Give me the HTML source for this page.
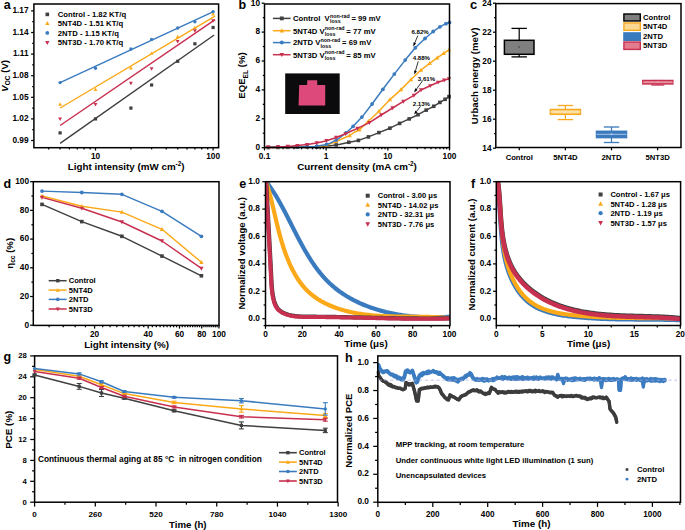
<!DOCTYPE html>
<html><head><meta charset="utf-8"><style>
html,body{margin:0;padding:0;background:#fff;}
svg{display:block;}
text{font-family:'Liberation Sans',sans-serif;font-weight:bold;}
</style></head><body>
<svg width="685" height="530" viewBox="0 0 685 530">
<rect width="685" height="530" fill="#fff"/>
<line x1="31.1" y1="140.5" x2="33.9" y2="140.5" stroke="#000" stroke-width="1.25" />
<line x1="31.1" y1="118.9" x2="33.9" y2="118.9" stroke="#000" stroke-width="1.25" />
<line x1="31.1" y1="97.3" x2="33.9" y2="97.3" stroke="#000" stroke-width="1.25" />
<line x1="31.1" y1="75.7" x2="33.9" y2="75.7" stroke="#000" stroke-width="1.25" />
<line x1="31.1" y1="54.1" x2="33.9" y2="54.1" stroke="#000" stroke-width="1.25" />
<line x1="31.1" y1="32.5" x2="33.9" y2="32.5" stroke="#000" stroke-width="1.25" />
<line x1="31.1" y1="10.9" x2="33.9" y2="10.9" stroke="#000" stroke-width="1.25" />
<line x1="32.2" y1="129.7" x2="33.9" y2="129.7" stroke="#000" stroke-width="1.25" />
<line x1="32.2" y1="108.1" x2="33.9" y2="108.1" stroke="#000" stroke-width="1.25" />
<line x1="32.2" y1="86.5" x2="33.9" y2="86.5" stroke="#000" stroke-width="1.25" />
<line x1="32.2" y1="64.9" x2="33.9" y2="64.9" stroke="#000" stroke-width="1.25" />
<line x1="32.2" y1="43.3" x2="33.9" y2="43.3" stroke="#000" stroke-width="1.25" />
<line x1="32.2" y1="21.7" x2="33.9" y2="21.7" stroke="#000" stroke-width="1.25" />
<text x="28.6" y="142.8" font-size="8.3" text-anchor="end" fill="#000" >0.99</text>
<text x="28.6" y="121.2" font-size="8.3" text-anchor="end" fill="#000" >1.02</text>
<text x="28.6" y="99.6" font-size="8.3" text-anchor="end" fill="#000" >1.05</text>
<text x="28.6" y="78" font-size="8.3" text-anchor="end" fill="#000" >1.08</text>
<text x="28.6" y="56.4" font-size="8.3" text-anchor="end" fill="#000" >1.11</text>
<text x="28.6" y="34.8" font-size="8.3" text-anchor="end" fill="#000" >1.14</text>
<text x="28.6" y="13.2" font-size="8.3" text-anchor="end" fill="#000" >1.17</text>
<line x1="95.5" y1="147.7" x2="95.5" y2="150.5" stroke="#000" stroke-width="1.25" />
<line x1="213.1" y1="147.7" x2="213.1" y2="150.5" stroke="#000" stroke-width="1.25" />
<line x1="48.7" y1="147.7" x2="48.7" y2="149.4" stroke="#000" stroke-width="1.25" />
<line x1="60.1" y1="147.7" x2="60.1" y2="149.4" stroke="#000" stroke-width="1.25" />
<line x1="69.41" y1="147.7" x2="69.41" y2="149.4" stroke="#000" stroke-width="1.25" />
<line x1="77.28" y1="147.7" x2="77.28" y2="149.4" stroke="#000" stroke-width="1.25" />
<line x1="84.1" y1="147.7" x2="84.1" y2="149.4" stroke="#000" stroke-width="1.25" />
<line x1="90.12" y1="147.7" x2="90.12" y2="149.4" stroke="#000" stroke-width="1.25" />
<line x1="130.9" y1="147.7" x2="130.9" y2="149.4" stroke="#000" stroke-width="1.25" />
<line x1="151.61" y1="147.7" x2="151.61" y2="149.4" stroke="#000" stroke-width="1.25" />
<line x1="166.3" y1="147.7" x2="166.3" y2="149.4" stroke="#000" stroke-width="1.25" />
<line x1="177.7" y1="147.7" x2="177.7" y2="149.4" stroke="#000" stroke-width="1.25" />
<line x1="187.01" y1="147.7" x2="187.01" y2="149.4" stroke="#000" stroke-width="1.25" />
<line x1="194.88" y1="147.7" x2="194.88" y2="149.4" stroke="#000" stroke-width="1.25" />
<line x1="201.7" y1="147.7" x2="201.7" y2="149.4" stroke="#000" stroke-width="1.25" />
<line x1="207.72" y1="147.7" x2="207.72" y2="149.4" stroke="#000" stroke-width="1.25" />
<text x="95.5" y="159.2" font-size="8.3" text-anchor="middle" fill="#000" >10</text>
<text x="213.1" y="159.2" font-size="8.3" text-anchor="middle" fill="#000" >100</text>
<text x="126.2" y="170" font-size="9.8" text-anchor="middle" fill="#000" >Light intensity (mW cm<tspan font-size="6.4" dy="-3.6">-2</tspan><tspan dy="3.6">)</tspan></text>
<text transform="translate(7.5,75.8) rotate(-90)" font-size="9.6" text-anchor="middle" fill="#000"><tspan font-style="italic">V</tspan><tspan font-size="6.6" dy="2.2">OC</tspan><tspan dy="-2.2"> (V)</tspan></text>
<line x1="60.1" y1="143.4" x2="214.2" y2="35" stroke="#404040" stroke-width="1.45" />
<line x1="60.1" y1="108" x2="215" y2="16.1" stroke="#fba919" stroke-width="1.45" />
<line x1="60.1" y1="82.7" x2="213.4" y2="11.6" stroke="#3a7bbf" stroke-width="1.45" />
<line x1="60.1" y1="125.5" x2="215.1" y2="19.6" stroke="#c8304f" stroke-width="1.45" />
<rect x="58.5" y="131.3" width="3.2" height="3.2" fill="#404040"/>
<rect x="93.9" y="117.3" width="3.2" height="3.2" fill="#404040"/>
<rect x="129.3" y="106.5" width="3.2" height="3.2" fill="#404040"/>
<rect x="150.01" y="83.4" width="3.2" height="3.2" fill="#404040"/>
<rect x="176.1" y="59.7" width="3.2" height="3.2" fill="#404040"/>
<rect x="193.28" y="42.2" width="3.2" height="3.2" fill="#404040"/>
<rect x="211.5" y="25.9" width="3.2" height="3.2" fill="#404040"/>
<polygon points="60.1,102.18 58.18,105.67 62.02,105.67" fill="#fba919"/>
<polygon points="95.5,87.58 93.58,91.07 97.42,91.07" fill="#fba919"/>
<polygon points="130.9,65.98 128.98,69.47 132.82,69.47" fill="#fba919"/>
<polygon points="151.61,51.38 149.69,54.87 153.53,54.87" fill="#fba919"/>
<polygon points="177.7,34.78 175.78,38.27 179.62,38.27" fill="#fba919"/>
<polygon points="194.88,25.68 192.96,29.17 196.8,29.17" fill="#fba919"/>
<polygon points="213.1,11.98 211.18,15.47 215.02,15.47" fill="#fba919"/>
<circle cx="60.1" cy="82.6" r="1.68" fill="#3a7bbf"/>
<circle cx="95.5" cy="68.2" r="1.68" fill="#3a7bbf"/>
<circle cx="130.9" cy="49.05" r="1.68" fill="#3a7bbf"/>
<circle cx="151.61" cy="39.4" r="1.68" fill="#3a7bbf"/>
<circle cx="177.7" cy="28" r="1.68" fill="#3a7bbf"/>
<circle cx="194.88" cy="21.7" r="1.68" fill="#3a7bbf"/>
<circle cx="213.1" cy="11.6" r="1.68" fill="#3a7bbf"/>
<polygon points="60.1,120.92 58.18,117.43 62.02,117.43" fill="#c8304f"/>
<polygon points="95.5,106.52 93.58,103.03 97.42,103.03" fill="#c8304f"/>
<polygon points="130.9,85.22 128.98,81.73 132.82,81.73" fill="#c8304f"/>
<polygon points="151.61,70.72 149.69,67.23 153.53,67.23" fill="#c8304f"/>
<polygon points="177.7,43.52 175.78,40.03 179.62,40.03" fill="#c8304f"/>
<polygon points="194.88,32.72 192.96,29.23 196.8,29.23" fill="#c8304f"/>
<polygon points="213.1,22.72 211.18,19.23 215.02,19.23" fill="#c8304f"/>
<rect x="45.5" y="12.6" width="3.6" height="3.6" fill="#404040"/>
<text x="57.8" y="17.2" font-size="7.7" text-anchor="start" fill="#000" >Control - 1.82 KT/q</text>
<polygon points="47.3,21.02 45.14,24.96 49.46,24.96" fill="#fba919"/>
<text x="57.8" y="26.1" font-size="7.7" text-anchor="start" fill="#000" >5NT4D - 1.51 KT/q</text>
<circle cx="47.3" cy="32.9" r="1.89" fill="#3a7bbf"/>
<text x="57.8" y="35.7" font-size="7.7" text-anchor="start" fill="#000" >2NTD - 1.15 KT/q</text>
<polygon points="47.3,44.88 45.14,40.94 49.46,40.94" fill="#c8304f"/>
<text x="57.8" y="45.4" font-size="7.7" text-anchor="start" fill="#000" >5NT3D - 1.70 KT/q</text>
<rect x="33.9" y="4" width="184.7" height="143.7" fill="none" stroke="#000" stroke-width="1.5"/>
<text x="3.7" y="9" font-size="12.5" text-anchor="start" fill="#000" >a</text>
<line x1="261.7" y1="147.7" x2="264.5" y2="147.7" stroke="#000" stroke-width="1.25" />
<line x1="261.7" y1="118.8" x2="264.5" y2="118.8" stroke="#000" stroke-width="1.25" />
<line x1="261.7" y1="89.9" x2="264.5" y2="89.9" stroke="#000" stroke-width="1.25" />
<line x1="261.7" y1="61" x2="264.5" y2="61" stroke="#000" stroke-width="1.25" />
<line x1="261.7" y1="32.1" x2="264.5" y2="32.1" stroke="#000" stroke-width="1.25" />
<line x1="261.7" y1="3.2" x2="264.5" y2="3.2" stroke="#000" stroke-width="1.25" />
<line x1="262.8" y1="133.25" x2="264.5" y2="133.25" stroke="#000" stroke-width="1.25" />
<line x1="262.8" y1="104.35" x2="264.5" y2="104.35" stroke="#000" stroke-width="1.25" />
<line x1="262.8" y1="75.45" x2="264.5" y2="75.45" stroke="#000" stroke-width="1.25" />
<line x1="262.8" y1="46.55" x2="264.5" y2="46.55" stroke="#000" stroke-width="1.25" />
<line x1="262.8" y1="17.65" x2="264.5" y2="17.65" stroke="#000" stroke-width="1.25" />
<text x="260" y="150" font-size="8.3" text-anchor="end" fill="#000" >0</text>
<text x="260" y="121.1" font-size="8.3" text-anchor="end" fill="#000" >2</text>
<text x="260" y="92.2" font-size="8.3" text-anchor="end" fill="#000" >4</text>
<text x="260" y="63.3" font-size="8.3" text-anchor="end" fill="#000" >6</text>
<text x="260" y="34.4" font-size="8.3" text-anchor="end" fill="#000" >8</text>
<text x="260" y="5.5" font-size="8.3" text-anchor="end" fill="#000" >10</text>
<line x1="264.5" y1="147.6" x2="264.5" y2="150.4" stroke="#000" stroke-width="1.25" />
<line x1="326.17" y1="147.6" x2="326.17" y2="150.4" stroke="#000" stroke-width="1.25" />
<line x1="387.84" y1="147.6" x2="387.84" y2="150.4" stroke="#000" stroke-width="1.25" />
<line x1="449.51" y1="147.6" x2="449.51" y2="150.4" stroke="#000" stroke-width="1.25" />
<line x1="283.06" y1="147.6" x2="283.06" y2="149.3" stroke="#000" stroke-width="1.25" />
<line x1="293.92" y1="147.6" x2="293.92" y2="149.3" stroke="#000" stroke-width="1.25" />
<line x1="301.63" y1="147.6" x2="301.63" y2="149.3" stroke="#000" stroke-width="1.25" />
<line x1="307.61" y1="147.6" x2="307.61" y2="149.3" stroke="#000" stroke-width="1.25" />
<line x1="312.49" y1="147.6" x2="312.49" y2="149.3" stroke="#000" stroke-width="1.25" />
<line x1="316.62" y1="147.6" x2="316.62" y2="149.3" stroke="#000" stroke-width="1.25" />
<line x1="320.19" y1="147.6" x2="320.19" y2="149.3" stroke="#000" stroke-width="1.25" />
<line x1="323.35" y1="147.6" x2="323.35" y2="149.3" stroke="#000" stroke-width="1.25" />
<line x1="344.73" y1="147.6" x2="344.73" y2="149.3" stroke="#000" stroke-width="1.25" />
<line x1="355.59" y1="147.6" x2="355.59" y2="149.3" stroke="#000" stroke-width="1.25" />
<line x1="363.3" y1="147.6" x2="363.3" y2="149.3" stroke="#000" stroke-width="1.25" />
<line x1="369.28" y1="147.6" x2="369.28" y2="149.3" stroke="#000" stroke-width="1.25" />
<line x1="374.16" y1="147.6" x2="374.16" y2="149.3" stroke="#000" stroke-width="1.25" />
<line x1="378.29" y1="147.6" x2="378.29" y2="149.3" stroke="#000" stroke-width="1.25" />
<line x1="381.86" y1="147.6" x2="381.86" y2="149.3" stroke="#000" stroke-width="1.25" />
<line x1="385.02" y1="147.6" x2="385.02" y2="149.3" stroke="#000" stroke-width="1.25" />
<line x1="406.4" y1="147.6" x2="406.4" y2="149.3" stroke="#000" stroke-width="1.25" />
<line x1="417.26" y1="147.6" x2="417.26" y2="149.3" stroke="#000" stroke-width="1.25" />
<line x1="424.97" y1="147.6" x2="424.97" y2="149.3" stroke="#000" stroke-width="1.25" />
<line x1="430.95" y1="147.6" x2="430.95" y2="149.3" stroke="#000" stroke-width="1.25" />
<line x1="435.83" y1="147.6" x2="435.83" y2="149.3" stroke="#000" stroke-width="1.25" />
<line x1="439.96" y1="147.6" x2="439.96" y2="149.3" stroke="#000" stroke-width="1.25" />
<line x1="443.53" y1="147.6" x2="443.53" y2="149.3" stroke="#000" stroke-width="1.25" />
<line x1="446.69" y1="147.6" x2="446.69" y2="149.3" stroke="#000" stroke-width="1.25" />
<text x="264.5" y="159.2" font-size="8.3" text-anchor="middle" fill="#000" >0.1</text>
<text x="326.17" y="159.2" font-size="8.3" text-anchor="middle" fill="#000" >1</text>
<text x="387.84" y="159.2" font-size="8.3" text-anchor="middle" fill="#000" >10</text>
<text x="449.51" y="159.2" font-size="8.3" text-anchor="middle" fill="#000" >100</text>
<text x="357" y="170" font-size="9.8" text-anchor="middle" fill="#000" >Current density (mA cm<tspan font-size="6.4" dy="-3.6">-2</tspan><tspan dy="3.6">)</tspan></text>
<text transform="translate(245.3,75.5) rotate(-90)" font-size="9.6" text-anchor="middle" fill="#000">EQE<tspan font-size="6.6" dy="2.2">EL</tspan><tspan dy="-2.2"> (%)</tspan></text>
<filter id="bl" x="-0.2" y="-0.2" width="1.4" height="1.4"><feGaussianBlur stdDeviation="0.45"/></filter>
<rect x="285.2" y="73.4" width="54.5" height="40.6" fill="#0b0b0d"/>
<polygon points="299.2,85.0 307.2,85.0 307.2,80.3 317.2,80.3 317.2,85.0 325.2,85.0 325.2,105.6 298.6,105.6" fill="#de4a7b" filter="url(#bl)"/>
<polyline points="266,147.5 320,147 332.3,145.6 340.2,144.3 348.1,142.4 358.4,140.4 368.4,136.9 378.9,132.6 389.9,128.2 399.6,123.4 409.2,118.9 418,114.7 426.2,110.1 433.7,106.3 439.9,102.4 445.1,99.3 449,96.6" fill="none" stroke="#404040" stroke-width="1.5" stroke-linejoin="round" stroke-linecap="round" />
<rect x="266.5" y="145.68" width="3.6" height="3.6" fill="#404040"/>
<rect x="276.2" y="145.59" width="3.6" height="3.6" fill="#404040"/>
<rect x="285.9" y="145.5" width="3.6" height="3.6" fill="#404040"/>
<rect x="295.6" y="145.41" width="3.6" height="3.6" fill="#404040"/>
<rect x="305.3" y="145.32" width="3.6" height="3.6" fill="#404040"/>
<rect x="315" y="145.23" width="3.6" height="3.6" fill="#404040"/>
<rect x="324.7" y="144.46" width="3.6" height="3.6" fill="#404040"/>
<rect x="334.4" y="143.16" width="3.6" height="3.6" fill="#404040"/>
<rect x="347" y="140.46" width="3.6" height="3.6" fill="#404040"/>
<rect x="356.6" y="138.6" width="3.6" height="3.6" fill="#404040"/>
<rect x="366.6" y="135.1" width="3.6" height="3.6" fill="#404040"/>
<rect x="377.1" y="130.8" width="3.6" height="3.6" fill="#404040"/>
<rect x="388.1" y="126.4" width="3.6" height="3.6" fill="#404040"/>
<rect x="397.8" y="121.6" width="3.6" height="3.6" fill="#404040"/>
<rect x="407.4" y="117.1" width="3.6" height="3.6" fill="#404040"/>
<rect x="416.2" y="112.9" width="3.6" height="3.6" fill="#404040"/>
<rect x="424.4" y="108.3" width="3.6" height="3.6" fill="#404040"/>
<rect x="431.9" y="104.5" width="3.6" height="3.6" fill="#404040"/>
<rect x="438.1" y="100.6" width="3.6" height="3.6" fill="#404040"/>
<rect x="443.3" y="97.5" width="3.6" height="3.6" fill="#404040"/>
<rect x="447.2" y="94.8" width="3.6" height="3.6" fill="#404040"/>
<polyline points="266,147.4 310,146.9 320,146.2 327,145 335.6,141.7 345.5,137.3 349.6,135.6 354,132.5 359.3,129.9 368.4,121.2 378.9,111.2 389.9,99.6 401,89.6 411,79.5 421,70 429.7,63.4 437.2,57.8 443.7,53.4 449,49.9" fill="none" stroke="#fba919" stroke-width="1.5" stroke-linejoin="round" stroke-linecap="round" />
<polygon points="268.3,145.1 266.14,149.03 270.46,149.03" fill="#fba919"/>
<polygon points="278,144.99 275.84,148.92 280.16,148.92" fill="#fba919"/>
<polygon points="287.7,144.88 285.54,148.81 289.86,148.81" fill="#fba919"/>
<polygon points="297.4,144.77 295.24,148.7 299.56,148.7" fill="#fba919"/>
<polygon points="307.1,144.66 304.94,148.59 309.26,148.59" fill="#fba919"/>
<polygon points="316.8,144.15 314.64,148.08 318.96,148.08" fill="#fba919"/>
<polygon points="326.5,142.81 324.34,146.74 328.66,146.74" fill="#fba919"/>
<polygon points="336.2,139.16 334.04,143.09 338.36,143.09" fill="#fba919"/>
<polygon points="349.6,133.32 347.44,137.26 351.76,137.26" fill="#fba919"/>
<polygon points="359.3,127.62 357.14,131.56 361.46,131.56" fill="#fba919"/>
<polygon points="368.4,118.92 366.24,122.86 370.56,122.86" fill="#fba919"/>
<polygon points="378.9,108.92 376.74,112.86 381.06,112.86" fill="#fba919"/>
<polygon points="389.9,97.32 387.74,101.26 392.06,101.26" fill="#fba919"/>
<polygon points="401,87.32 398.84,91.26 403.16,91.26" fill="#fba919"/>
<polygon points="411,77.22 408.84,81.16 413.16,81.16" fill="#fba919"/>
<polygon points="421,67.72 418.84,71.66 423.16,71.66" fill="#fba919"/>
<polygon points="429.7,61.12 427.54,65.06 431.86,65.06" fill="#fba919"/>
<polygon points="437.2,55.52 435.04,59.46 439.36,59.46" fill="#fba919"/>
<polygon points="443.7,51.12 441.54,55.06 445.86,55.06" fill="#fba919"/>
<polygon points="449,47.62 446.84,51.56 451.16,51.56" fill="#fba919"/>
<polyline points="266,147.3 300,147 315,146.5 323.8,145 329.7,143.4 336.9,139.7 344.2,134.5 352.5,127 361.9,117.1 372.1,104 382.9,89.3 394.3,74.1 405.2,60.1 415.3,47.8 425,38.5 433.2,31.5 439.9,26.8 446,23.7 449.5,22.4" fill="none" stroke="#3a7bbf" stroke-width="1.5" stroke-linejoin="round" stroke-linecap="round" />
<circle cx="268.3" cy="147.28" r="1.89" fill="#3a7bbf"/>
<circle cx="278" cy="147.19" r="1.89" fill="#3a7bbf"/>
<circle cx="287.7" cy="147.11" r="1.89" fill="#3a7bbf"/>
<circle cx="297.4" cy="147.02" r="1.89" fill="#3a7bbf"/>
<circle cx="307.1" cy="146.76" r="1.89" fill="#3a7bbf"/>
<circle cx="316.8" cy="146.19" r="1.89" fill="#3a7bbf"/>
<circle cx="326.5" cy="144.27" r="1.89" fill="#3a7bbf"/>
<circle cx="336.2" cy="140.06" r="1.89" fill="#3a7bbf"/>
<circle cx="345.9" cy="132.96" r="1.89" fill="#3a7bbf"/>
<circle cx="353.1" cy="126.37" r="1.89" fill="#3a7bbf"/>
<circle cx="361.9" cy="117.1" r="1.89" fill="#3a7bbf"/>
<circle cx="372.1" cy="104" r="1.89" fill="#3a7bbf"/>
<circle cx="382.9" cy="89.3" r="1.89" fill="#3a7bbf"/>
<circle cx="394.3" cy="74.1" r="1.89" fill="#3a7bbf"/>
<circle cx="405.2" cy="60.1" r="1.89" fill="#3a7bbf"/>
<circle cx="415.3" cy="47.8" r="1.89" fill="#3a7bbf"/>
<circle cx="425" cy="38.5" r="1.89" fill="#3a7bbf"/>
<circle cx="433.2" cy="31.5" r="1.89" fill="#3a7bbf"/>
<circle cx="439.9" cy="26.8" r="1.89" fill="#3a7bbf"/>
<circle cx="446" cy="23.7" r="1.89" fill="#3a7bbf"/>
<circle cx="449.5" cy="22.4" r="1.89" fill="#3a7bbf"/>
<polyline points="266,147.2 277.9,147 287.7,146.5 297.5,145.6 307.4,144.5 316.6,143 325.8,141 335.6,137.7 345.5,133.8 351,131.3 357.5,128.4 369.4,122.6 381.2,115 392.6,108 403.4,101.4 413.9,95.4 421,90 430.2,85.8 438.1,82.3 444.2,80.2 449,78.8" fill="none" stroke="#c8304f" stroke-width="1.5" stroke-linejoin="round" stroke-linecap="round" />
<polygon points="268.3,149.44 266.14,145.51 270.46,145.51" fill="#c8304f"/>
<polygon points="278,149.27 275.84,145.34 280.16,145.34" fill="#c8304f"/>
<polygon points="287.7,148.78 285.54,144.84 289.86,144.84" fill="#c8304f"/>
<polygon points="297.4,147.89 295.24,143.95 299.56,143.95" fill="#c8304f"/>
<polygon points="307.1,146.81 304.94,142.88 309.26,142.88" fill="#c8304f"/>
<polygon points="316.8,145.23 314.64,141.3 318.96,141.3" fill="#c8304f"/>
<polygon points="326.5,143.04 324.34,139.11 328.66,139.11" fill="#c8304f"/>
<polygon points="336.2,139.74 334.04,135.81 338.36,135.81" fill="#c8304f"/>
<polygon points="345.5,136.08 343.34,132.14 347.66,132.14" fill="#c8304f"/>
<polygon points="357.5,130.68 355.34,126.74 359.66,126.74" fill="#c8304f"/>
<polygon points="369.4,124.88 367.24,120.94 371.56,120.94" fill="#c8304f"/>
<polygon points="381.2,117.28 379.04,113.34 383.36,113.34" fill="#c8304f"/>
<polygon points="392.6,110.28 390.44,106.34 394.76,106.34" fill="#c8304f"/>
<polygon points="403.4,103.68 401.24,99.74 405.56,99.74" fill="#c8304f"/>
<polygon points="413.9,97.68 411.74,93.74 416.06,93.74" fill="#c8304f"/>
<polygon points="421,92.28 418.84,88.34 423.16,88.34" fill="#c8304f"/>
<polygon points="430.2,88.08 428.04,84.14 432.36,84.14" fill="#c8304f"/>
<polygon points="438.1,84.58 435.94,80.64 440.26,80.64" fill="#c8304f"/>
<polygon points="444.2,82.48 442.04,78.54 446.36,78.54" fill="#c8304f"/>
<polygon points="449,81.08 446.84,77.14 451.16,77.14" fill="#c8304f"/>
<text x="420.1" y="33.9" font-size="6.1" text-anchor="middle" fill="#000" font-weight="normal">6.82%</text>
<line x1="417.8" y1="35.6" x2="414.83" y2="42.8" stroke="#000" stroke-width="0.8" />
<polygon points="413.3,46.5 413.53,42.27 416.12,43.34" fill="#000"/>
<text x="421.4" y="60.1" font-size="6.1" text-anchor="middle" fill="#000" font-weight="normal">4.88%</text>
<line x1="418.2" y1="61.4" x2="415.51" y2="70.76" stroke="#000" stroke-width="0.8" />
<polygon points="414.4,74.6 414.16,70.37 416.85,71.14" fill="#000"/>
<text x="426.5" y="80.7" font-size="6.1" text-anchor="middle" fill="#000" font-weight="normal">3.61%</text>
<line x1="422.4" y1="81" x2="416.45" y2="89.17" stroke="#000" stroke-width="0.8" />
<polygon points="414.1,92.4 415.32,88.34 417.59,89.99" fill="#000"/>
<text x="421.4" y="106" font-size="6.1" text-anchor="middle" fill="#000" font-weight="normal">2.13%</text>
<line x1="420.5" y1="106.3" x2="416.54" y2="111.43" stroke="#000" stroke-width="0.8" />
<polygon points="414.1,114.6 415.43,110.58 417.65,112.29" fill="#000"/>
<line x1="272.9" y1="18.4" x2="290.6" y2="18.4" stroke="#404040" stroke-width="1.5" />
<rect x="279.9" y="16.5" width="3.8" height="3.8" fill="#404040"/>
<text x="293" y="21.2" font-size="7.7" text-anchor="start" fill="#000" >Control&#160; V</text>
<text x="329.99" y="18.1" font-size="5.3" text-anchor="start" fill="#000" font-weight="normal">non-rad</text>
<text x="329.99" y="23.3" font-size="5.3" text-anchor="start" fill="#000" font-weight="normal">loss</text>
<text x="351.45" y="21.2" font-size="7.7" text-anchor="start" fill="#000" >= 99 mV</text>
<line x1="272.9" y1="30.7" x2="290.6" y2="30.7" stroke="#fba919" stroke-width="1.5" />
<polygon points="281.8,28.3 279.52,32.45 284.08,32.45" fill="#fba919"/>
<text x="293" y="33.5" font-size="7.7" text-anchor="start" fill="#000" >5NT4D V</text>
<text x="324.87" y="30.4" font-size="5.3" text-anchor="start" fill="#000" font-weight="normal">non-rad</text>
<text x="324.87" y="35.6" font-size="5.3" text-anchor="start" fill="#000" font-weight="normal">loss</text>
<text x="346.33" y="33.5" font-size="7.7" text-anchor="start" fill="#000" >= 77 mV</text>
<line x1="272.9" y1="42.6" x2="290.6" y2="42.6" stroke="#3a7bbf" stroke-width="1.5" />
<circle cx="281.8" cy="42.6" r="1.99" fill="#3a7bbf"/>
<text x="293" y="45.4" font-size="7.7" text-anchor="start" fill="#000" >2NTD V</text>
<text x="320.58" y="42.3" font-size="5.3" text-anchor="start" fill="#000" font-weight="normal">non-rad</text>
<text x="320.58" y="47.5" font-size="5.3" text-anchor="start" fill="#000" font-weight="normal">loss</text>
<text x="342.05" y="45.4" font-size="7.7" text-anchor="start" fill="#000" >= 69 mV</text>
<line x1="272.9" y1="54.7" x2="290.6" y2="54.7" stroke="#c8304f" stroke-width="1.5" />
<polygon points="281.8,57.1 279.52,52.95 284.08,52.95" fill="#c8304f"/>
<text x="293" y="57.5" font-size="7.7" text-anchor="start" fill="#000" >5NT3D V</text>
<text x="324.87" y="54.4" font-size="5.3" text-anchor="start" fill="#000" font-weight="normal">non-rad</text>
<text x="324.87" y="59.6" font-size="5.3" text-anchor="start" fill="#000" font-weight="normal">loss</text>
<text x="346.33" y="57.5" font-size="7.7" text-anchor="start" fill="#000" >= 85 mV</text>
<rect x="264.5" y="4" width="185" height="143.6" fill="none" stroke="#000" stroke-width="1.5"/>
<text x="238.6" y="8.9" font-size="12.5" text-anchor="start" fill="#000" >b</text>
<line x1="493" y1="148.2" x2="495.8" y2="148.2" stroke="#000" stroke-width="1.25" />
<line x1="493" y1="119.2" x2="495.8" y2="119.2" stroke="#000" stroke-width="1.25" />
<line x1="493" y1="90.2" x2="495.8" y2="90.2" stroke="#000" stroke-width="1.25" />
<line x1="493" y1="61.2" x2="495.8" y2="61.2" stroke="#000" stroke-width="1.25" />
<line x1="493" y1="32.2" x2="495.8" y2="32.2" stroke="#000" stroke-width="1.25" />
<line x1="493" y1="3.2" x2="495.8" y2="3.2" stroke="#000" stroke-width="1.25" />
<line x1="494.1" y1="133.7" x2="495.8" y2="133.7" stroke="#000" stroke-width="1.25" />
<line x1="494.1" y1="104.7" x2="495.8" y2="104.7" stroke="#000" stroke-width="1.25" />
<line x1="494.1" y1="75.7" x2="495.8" y2="75.7" stroke="#000" stroke-width="1.25" />
<line x1="494.1" y1="46.7" x2="495.8" y2="46.7" stroke="#000" stroke-width="1.25" />
<line x1="494.1" y1="17.7" x2="495.8" y2="17.7" stroke="#000" stroke-width="1.25" />
<text x="491.5" y="150.5" font-size="8.3" text-anchor="end" fill="#000" >14</text>
<text x="491.5" y="121.5" font-size="8.3" text-anchor="end" fill="#000" >16</text>
<text x="491.5" y="92.5" font-size="8.3" text-anchor="end" fill="#000" >18</text>
<text x="491.5" y="63.5" font-size="8.3" text-anchor="end" fill="#000" >20</text>
<text x="491.5" y="34.5" font-size="8.3" text-anchor="end" fill="#000" >22</text>
<text x="491.5" y="5.5" font-size="8.3" text-anchor="end" fill="#000" >24</text>
<line x1="519.3" y1="147.5" x2="519.3" y2="150.3" stroke="#000" stroke-width="1.25" />
<line x1="565.4" y1="147.5" x2="565.4" y2="150.3" stroke="#000" stroke-width="1.25" />
<line x1="611.5" y1="147.5" x2="611.5" y2="150.3" stroke="#000" stroke-width="1.25" />
<line x1="657.6" y1="147.5" x2="657.6" y2="150.3" stroke="#000" stroke-width="1.25" />
<text x="519.3" y="160.3" font-size="7.7" text-anchor="middle" fill="#000" >Control</text>
<text x="565.4" y="160.3" font-size="7.7" text-anchor="middle" fill="#000" >5NT4D</text>
<text x="611.5" y="160.3" font-size="7.7" text-anchor="middle" fill="#000" >2NTD</text>
<text x="657.6" y="160.3" font-size="7.7" text-anchor="middle" fill="#000" >5NT3D</text>
<text transform="translate(478.2,75.9) rotate(-90)" font-size="9.6" text-anchor="middle" fill="#000">Urbach energy (meV)</text>
<line x1="519.2" y1="28.4" x2="519.2" y2="40.3" stroke="#000" stroke-width="1.2" />
<line x1="519.2" y1="54.3" x2="519.2" y2="56.9" stroke="#000" stroke-width="1.2" />
<line x1="511.5" y1="28.4" x2="526.9" y2="28.4" stroke="#000" stroke-width="1.3" />
<line x1="511.5" y1="56.9" x2="526.9" y2="56.9" stroke="#000" stroke-width="1.3" />
<rect x="504.4" y="40.3" width="29.6" height="14" fill="#7f7f7f" stroke="#000" stroke-width="1.5"/>
<rect x="518.3" y="46.1" width="1.8" height="1.8" fill="#5a5a5a"/>
<line x1="565.4" y1="105.5" x2="565.4" y2="109.5" stroke="#f8a81c" stroke-width="1.2" />
<line x1="565.4" y1="114.3" x2="565.4" y2="119.6" stroke="#f8a81c" stroke-width="1.2" />
<line x1="557.7" y1="105.5" x2="573.1" y2="105.5" stroke="#f8a81c" stroke-width="1.3" />
<line x1="557.7" y1="119.6" x2="573.1" y2="119.6" stroke="#f8a81c" stroke-width="1.3" />
<rect x="550.4" y="109.5" width="30" height="4.8" fill="#fdd993" stroke="#f8a81c" stroke-width="1.5"/>
<line x1="550.4" y1="111.9" x2="580.4" y2="111.9" stroke="#fbe7bd" stroke-width="1.0" />
<rect x="564.5" y="111.1" width="1.8" height="1.8" fill="#fbe7bd"/>
<line x1="611.5" y1="127" x2="611.5" y2="131.3" stroke="#3a7abd" stroke-width="1.2" />
<line x1="611.5" y1="137.6" x2="611.5" y2="142.5" stroke="#3a7abd" stroke-width="1.2" />
<line x1="603.8" y1="127" x2="619.2" y2="127" stroke="#3a7abd" stroke-width="1.3" />
<line x1="603.8" y1="142.5" x2="619.2" y2="142.5" stroke="#3a7abd" stroke-width="1.3" />
<rect x="596.5" y="131.3" width="30" height="6.3" fill="#3a7abd" stroke="#3a7abd" stroke-width="1.5"/>
<line x1="596.5" y1="134.3" x2="626.5" y2="134.3" stroke="#a9c8ea" stroke-width="1.0" />
<rect x="610.6" y="133.3" width="1.8" height="1.8" fill="#a9c8ea"/>
<line x1="657.8" y1="80.6" x2="657.8" y2="80.5" stroke="#c8304f" stroke-width="1.2" />
<line x1="657.8" y1="83.9" x2="657.8" y2="85" stroke="#c8304f" stroke-width="1.2" />
<line x1="651.3" y1="80.6" x2="664.3" y2="80.6" stroke="#c8304f" stroke-width="1.3" />
<line x1="651.3" y1="85" x2="664.3" y2="85" stroke="#c8304f" stroke-width="1.3" />
<rect x="642.8" y="80.5" width="30" height="3.4" fill="#e47c8f" stroke="#c8304f" stroke-width="1.5"/>
<line x1="642.8" y1="82.2" x2="672.8" y2="82.2" stroke="#e9a0ad" stroke-width="1.0" />
<rect x="656.9" y="81.3" width="1.8" height="1.8" fill="#e9a0ad"/>
<rect x="623.9" y="14" width="16.4" height="7" fill="#7f7f7f" stroke="#000" stroke-width="1.4"/>
<text x="643.1" y="20.2" font-size="7.65" text-anchor="start" fill="#000" >Control</text>
<rect x="623.9" y="23" width="16.4" height="7.3" fill="#fdd993" stroke="#f8a81c" stroke-width="1.4"/>
<text x="643.1" y="29.35" font-size="7.65" text-anchor="start" fill="#000" >5NT4D</text>
<rect x="623.9" y="32.9" width="16.4" height="7.4" fill="#3a7abd" stroke="#3a7abd" stroke-width="1.4"/>
<text x="643.1" y="39.3" font-size="7.65" text-anchor="start" fill="#000" >2NTD</text>
<rect x="623.9" y="42" width="16.4" height="7.4" fill="#e47c8f" stroke="#c8304f" stroke-width="1.4"/>
<text x="643.1" y="48.4" font-size="7.65" text-anchor="start" fill="#000" >5NT3D</text>
<rect x="495.8" y="3.6" width="185.2" height="143.9" fill="none" stroke="#000" stroke-width="1.5"/>
<text x="469.9" y="9.3" font-size="13" text-anchor="start" fill="#000" >c</text>
<line x1="30.1" y1="325.2" x2="33.3" y2="325.2" stroke="#000" stroke-width="1.25" />
<line x1="30.1" y1="296.5" x2="33.3" y2="296.5" stroke="#000" stroke-width="1.25" />
<line x1="30.1" y1="267.8" x2="33.3" y2="267.8" stroke="#000" stroke-width="1.25" />
<line x1="30.1" y1="239.1" x2="33.3" y2="239.1" stroke="#000" stroke-width="1.25" />
<line x1="30.1" y1="210.4" x2="33.3" y2="210.4" stroke="#000" stroke-width="1.25" />
<line x1="30.1" y1="181.7" x2="33.3" y2="181.7" stroke="#000" stroke-width="1.25" />
<line x1="31.4" y1="310.85" x2="33.3" y2="310.85" stroke="#000" stroke-width="1.25" />
<line x1="31.4" y1="282.15" x2="33.3" y2="282.15" stroke="#000" stroke-width="1.25" />
<line x1="31.4" y1="253.45" x2="33.3" y2="253.45" stroke="#000" stroke-width="1.25" />
<line x1="31.4" y1="224.75" x2="33.3" y2="224.75" stroke="#000" stroke-width="1.25" />
<line x1="31.4" y1="196.05" x2="33.3" y2="196.05" stroke="#000" stroke-width="1.25" />
<text x="29" y="327.5" font-size="8.3" text-anchor="end" fill="#000" >0</text>
<text x="29" y="298.8" font-size="8.3" text-anchor="end" fill="#000" >20</text>
<text x="29" y="270.1" font-size="8.3" text-anchor="end" fill="#000" >40</text>
<text x="29" y="241.4" font-size="8.3" text-anchor="end" fill="#000" >60</text>
<text x="29" y="212.7" font-size="8.3" text-anchor="end" fill="#000" >80</text>
<text x="29" y="184" font-size="8.3" text-anchor="end" fill="#000" >100</text>
<line x1="94.58" y1="325.4" x2="94.58" y2="328.6" stroke="#000" stroke-width="1.25" />
<line x1="148.17" y1="325.4" x2="148.17" y2="328.6" stroke="#000" stroke-width="1.25" />
<line x1="179.51" y1="325.4" x2="179.51" y2="328.6" stroke="#000" stroke-width="1.25" />
<line x1="201.75" y1="325.4" x2="201.75" y2="328.6" stroke="#000" stroke-width="1.25" />
<line x1="219" y1="325.4" x2="219" y2="328.6" stroke="#000" stroke-width="1.25" />
<line x1="49.14" y1="325.4" x2="49.14" y2="327.3" stroke="#000" stroke-width="1.25" />
<line x1="63.24" y1="325.4" x2="63.24" y2="327.3" stroke="#000" stroke-width="1.25" />
<line x1="75.16" y1="325.4" x2="75.16" y2="327.3" stroke="#000" stroke-width="1.25" />
<line x1="85.48" y1="325.4" x2="85.48" y2="327.3" stroke="#000" stroke-width="1.25" />
<line x1="102.73" y1="325.4" x2="102.73" y2="327.3" stroke="#000" stroke-width="1.25" />
<line x1="110.1" y1="325.4" x2="110.1" y2="327.3" stroke="#000" stroke-width="1.25" />
<line x1="116.82" y1="325.4" x2="116.82" y2="327.3" stroke="#000" stroke-width="1.25" />
<line x1="123.01" y1="325.4" x2="123.01" y2="327.3" stroke="#000" stroke-width="1.25" />
<line x1="128.74" y1="325.4" x2="128.74" y2="327.3" stroke="#000" stroke-width="1.25" />
<line x1="134.07" y1="325.4" x2="134.07" y2="327.3" stroke="#000" stroke-width="1.25" />
<line x1="139.06" y1="325.4" x2="139.06" y2="327.3" stroke="#000" stroke-width="1.25" />
<line x1="143.75" y1="325.4" x2="143.75" y2="327.3" stroke="#000" stroke-width="1.25" />
<line x1="152.35" y1="325.4" x2="152.35" y2="327.3" stroke="#000" stroke-width="1.25" />
<line x1="156.31" y1="325.4" x2="156.31" y2="327.3" stroke="#000" stroke-width="1.25" />
<line x1="160.08" y1="325.4" x2="160.08" y2="327.3" stroke="#000" stroke-width="1.25" />
<line x1="163.68" y1="325.4" x2="163.68" y2="327.3" stroke="#000" stroke-width="1.25" />
<line x1="167.12" y1="325.4" x2="167.12" y2="327.3" stroke="#000" stroke-width="1.25" />
<line x1="170.41" y1="325.4" x2="170.41" y2="327.3" stroke="#000" stroke-width="1.25" />
<line x1="173.56" y1="325.4" x2="173.56" y2="327.3" stroke="#000" stroke-width="1.25" />
<line x1="176.59" y1="325.4" x2="176.59" y2="327.3" stroke="#000" stroke-width="1.25" />
<line x1="182.32" y1="325.4" x2="182.32" y2="327.3" stroke="#000" stroke-width="1.25" />
<line x1="185.04" y1="325.4" x2="185.04" y2="327.3" stroke="#000" stroke-width="1.25" />
<line x1="187.66" y1="325.4" x2="187.66" y2="327.3" stroke="#000" stroke-width="1.25" />
<line x1="190.19" y1="325.4" x2="190.19" y2="327.3" stroke="#000" stroke-width="1.25" />
<line x1="192.64" y1="325.4" x2="192.64" y2="327.3" stroke="#000" stroke-width="1.25" />
<line x1="195.02" y1="325.4" x2="195.02" y2="327.3" stroke="#000" stroke-width="1.25" />
<line x1="197.33" y1="325.4" x2="197.33" y2="327.3" stroke="#000" stroke-width="1.25" />
<line x1="199.57" y1="325.4" x2="199.57" y2="327.3" stroke="#000" stroke-width="1.25" />
<line x1="203.87" y1="325.4" x2="203.87" y2="327.3" stroke="#000" stroke-width="1.25" />
<line x1="205.93" y1="325.4" x2="205.93" y2="327.3" stroke="#000" stroke-width="1.25" />
<line x1="207.94" y1="325.4" x2="207.94" y2="327.3" stroke="#000" stroke-width="1.25" />
<line x1="209.89" y1="325.4" x2="209.89" y2="327.3" stroke="#000" stroke-width="1.25" />
<line x1="211.8" y1="325.4" x2="211.8" y2="327.3" stroke="#000" stroke-width="1.25" />
<line x1="213.67" y1="325.4" x2="213.67" y2="327.3" stroke="#000" stroke-width="1.25" />
<line x1="215.49" y1="325.4" x2="215.49" y2="327.3" stroke="#000" stroke-width="1.25" />
<line x1="217.26" y1="325.4" x2="217.26" y2="327.3" stroke="#000" stroke-width="1.25" />
<text x="94.58" y="337" font-size="8.3" text-anchor="middle" fill="#000" >20</text>
<text x="148.17" y="337" font-size="8.3" text-anchor="middle" fill="#000" >40</text>
<text x="179.51" y="337" font-size="8.3" text-anchor="middle" fill="#000" >60</text>
<text x="201.75" y="337" font-size="8.3" text-anchor="middle" fill="#000" >80</text>
<text x="219" y="337" font-size="8.3" text-anchor="middle" fill="#000" >100</text>
<text x="126.6" y="347.6" font-size="9.8" text-anchor="middle" fill="#000" >Light intensity (%)</text>
<text transform="translate(13.2,253.3) rotate(-90)" font-size="9.6" text-anchor="middle" fill="#000">&#951;<tspan font-size="6.6" dy="2.2">cc</tspan><tspan dy="-2.2"> (%)</tspan></text>
<polyline points="42,204.4 81.8,221.6 121.9,236.3 162,256.1 201.4,275.8" fill="none" stroke="#404040" stroke-width="1.45" stroke-linejoin="round" stroke-linecap="round" />
<polyline points="42,196 81.8,206.2 121.9,212.1 162,229.3 201.4,262.3" fill="none" stroke="#fba919" stroke-width="1.45" stroke-linejoin="round" stroke-linecap="round" />
<polyline points="42,191.1 81.8,192.5 121.9,194.3 162,211.3 201.4,236.3" fill="none" stroke="#3a7bbf" stroke-width="1.45" stroke-linejoin="round" stroke-linecap="round" />
<polyline points="42,197.4 81.8,208.3 121.9,222 162,241 201.4,268.4" fill="none" stroke="#c8304f" stroke-width="1.45" stroke-linejoin="round" stroke-linecap="round" />
<rect x="40.2" y="202.6" width="3.6" height="3.6" fill="#404040"/>
<rect x="80" y="219.8" width="3.6" height="3.6" fill="#404040"/>
<rect x="120.1" y="234.5" width="3.6" height="3.6" fill="#404040"/>
<rect x="160.2" y="254.3" width="3.6" height="3.6" fill="#404040"/>
<rect x="199.6" y="274" width="3.6" height="3.6" fill="#404040"/>
<polygon points="42,193.72 39.84,197.66 44.16,197.66" fill="#fba919"/>
<polygon points="81.8,203.92 79.64,207.86 83.96,207.86" fill="#fba919"/>
<polygon points="121.9,209.82 119.74,213.76 124.06,213.76" fill="#fba919"/>
<polygon points="162,227.02 159.84,230.96 164.16,230.96" fill="#fba919"/>
<polygon points="201.4,260.02 199.24,263.96 203.56,263.96" fill="#fba919"/>
<circle cx="42" cy="191.1" r="1.89" fill="#3a7bbf"/>
<circle cx="81.8" cy="192.5" r="1.89" fill="#3a7bbf"/>
<circle cx="121.9" cy="194.3" r="1.89" fill="#3a7bbf"/>
<circle cx="162" cy="211.3" r="1.89" fill="#3a7bbf"/>
<circle cx="201.4" cy="236.3" r="1.89" fill="#3a7bbf"/>
<polygon points="42,199.68 39.84,195.74 44.16,195.74" fill="#c8304f"/>
<polygon points="81.8,210.58 79.64,206.64 83.96,206.64" fill="#c8304f"/>
<polygon points="121.9,224.28 119.74,220.34 124.06,220.34" fill="#c8304f"/>
<polygon points="162,243.28 159.84,239.34 164.16,239.34" fill="#c8304f"/>
<polygon points="201.4,270.68 199.24,266.74 203.56,266.74" fill="#c8304f"/>
<line x1="48.7" y1="280.7" x2="66.6" y2="280.7" stroke="#404040" stroke-width="1.5" />
<rect x="56.1" y="279" width="3.4" height="3.4" fill="#404040"/>
<text x="68.7" y="283.4" font-size="7.6" text-anchor="start" fill="#000" >Control</text>
<line x1="48.7" y1="290.1" x2="66.6" y2="290.1" stroke="#fba919" stroke-width="1.5" />
<polygon points="57.8,287.95 55.76,291.66 59.84,291.66" fill="#fba919"/>
<text x="68.7" y="292.8" font-size="7.6" text-anchor="start" fill="#000" >5NT4D</text>
<line x1="48.7" y1="299.4" x2="66.6" y2="299.4" stroke="#3a7bbf" stroke-width="1.5" />
<circle cx="57.8" cy="299.4" r="1.78" fill="#3a7bbf"/>
<text x="68.7" y="302.1" font-size="7.6" text-anchor="start" fill="#000" >2NTD</text>
<line x1="48.7" y1="309" x2="66.6" y2="309" stroke="#c8304f" stroke-width="1.5" />
<polygon points="57.8,311.15 55.76,307.44 59.84,307.44" fill="#c8304f"/>
<text x="68.7" y="311.7" font-size="7.6" text-anchor="start" fill="#000" >5NT3D</text>
<rect x="33.3" y="181.7" width="185.7" height="143.7" fill="none" stroke="#000" stroke-width="1.5"/>
<text x="3.4" y="187.9" font-size="12.5" text-anchor="start" fill="#000" >d</text>
<line x1="262.3" y1="318.7" x2="265.5" y2="318.7" stroke="#000" stroke-width="1.25" />
<line x1="262.3" y1="291.3" x2="265.5" y2="291.3" stroke="#000" stroke-width="1.25" />
<line x1="262.3" y1="263.9" x2="265.5" y2="263.9" stroke="#000" stroke-width="1.25" />
<line x1="262.3" y1="236.5" x2="265.5" y2="236.5" stroke="#000" stroke-width="1.25" />
<line x1="262.3" y1="209.1" x2="265.5" y2="209.1" stroke="#000" stroke-width="1.25" />
<line x1="262.3" y1="181.7" x2="265.5" y2="181.7" stroke="#000" stroke-width="1.25" />
<line x1="263.6" y1="305" x2="265.5" y2="305" stroke="#000" stroke-width="1.25" />
<line x1="263.6" y1="277.6" x2="265.5" y2="277.6" stroke="#000" stroke-width="1.25" />
<line x1="263.6" y1="250.2" x2="265.5" y2="250.2" stroke="#000" stroke-width="1.25" />
<line x1="263.6" y1="222.8" x2="265.5" y2="222.8" stroke="#000" stroke-width="1.25" />
<line x1="263.6" y1="195.4" x2="265.5" y2="195.4" stroke="#000" stroke-width="1.25" />
<line x1="263.6" y1="325.55" x2="265.5" y2="325.55" stroke="#000" stroke-width="1.25" />
<text x="259.9" y="321" font-size="8.3" text-anchor="end" fill="#000" >0.0</text>
<text x="259.9" y="293.6" font-size="8.3" text-anchor="end" fill="#000" >0.2</text>
<text x="259.9" y="266.2" font-size="8.3" text-anchor="end" fill="#000" >0.4</text>
<text x="259.9" y="238.8" font-size="8.3" text-anchor="end" fill="#000" >0.6</text>
<text x="259.9" y="211.4" font-size="8.3" text-anchor="end" fill="#000" >0.8</text>
<text x="259.9" y="184" font-size="8.3" text-anchor="end" fill="#000" >1.0</text>
<line x1="265.5" y1="325.6" x2="265.5" y2="328.8" stroke="#000" stroke-width="1.25" />
<line x1="302.3" y1="325.6" x2="302.3" y2="328.8" stroke="#000" stroke-width="1.25" />
<line x1="339.1" y1="325.6" x2="339.1" y2="328.8" stroke="#000" stroke-width="1.25" />
<line x1="375.9" y1="325.6" x2="375.9" y2="328.8" stroke="#000" stroke-width="1.25" />
<line x1="412.7" y1="325.6" x2="412.7" y2="328.8" stroke="#000" stroke-width="1.25" />
<line x1="449.5" y1="325.6" x2="449.5" y2="328.8" stroke="#000" stroke-width="1.25" />
<line x1="283.9" y1="325.6" x2="283.9" y2="327.5" stroke="#000" stroke-width="1.25" />
<line x1="320.7" y1="325.6" x2="320.7" y2="327.5" stroke="#000" stroke-width="1.25" />
<line x1="357.5" y1="325.6" x2="357.5" y2="327.5" stroke="#000" stroke-width="1.25" />
<line x1="394.3" y1="325.6" x2="394.3" y2="327.5" stroke="#000" stroke-width="1.25" />
<line x1="431.1" y1="325.6" x2="431.1" y2="327.5" stroke="#000" stroke-width="1.25" />
<text x="265.5" y="337" font-size="8.3" text-anchor="middle" fill="#000" >0</text>
<text x="302.3" y="337" font-size="8.3" text-anchor="middle" fill="#000" >20</text>
<text x="339.1" y="337" font-size="8.3" text-anchor="middle" fill="#000" >40</text>
<text x="375.9" y="337" font-size="8.3" text-anchor="middle" fill="#000" >60</text>
<text x="412.7" y="337" font-size="8.3" text-anchor="middle" fill="#000" >80</text>
<text x="449.5" y="337" font-size="8.3" text-anchor="middle" fill="#000" >100</text>
<text x="366" y="347" font-size="9.8" text-anchor="middle" fill="#000" >Time (&#956;s)</text>
<text transform="translate(244.8,253.4) rotate(-90)" font-size="9.5" text-anchor="middle" fill="#000">Normalized voltage (a.u.)</text>
<clipPath id="ce"><rect x="265.5" y="181.7" width="184.5" height="144"/></clipPath><g clip-path="url(#ce)">
<polyline points="266.72,182.16 267.42,183.08 268.11,184.02 268.8,184.96 269.47,185.92 270.15,186.88 270.81,187.85 271.48,188.83 272.13,189.82 272.78,190.82 273.43,191.82 274.07,192.84 274.7,193.86 275.33,194.88 275.96,195.91 276.58,196.95 277.2,198 277.82,199.05 278.43,200.11 279.03,201.18 279.64,202.25 280.24,203.32 280.84,204.4 281.43,205.49 282.02,206.58 282.61,207.67 283.2,208.77 283.78,209.87 284.37,210.98 284.95,212.09 285.53,213.2 286.11,214.32 286.68,215.44 287.26,216.56 287.84,217.68 288.41,218.81 288.98,219.94 289.56,221.07 290.13,222.2 290.71,223.33 291.28,224.47 291.85,225.6 292.43,226.74 293,227.87 293.58,229.01 294.16,230.15 294.74,231.28 295.32,232.42 295.9,233.55 296.48,234.69 297.07,235.82 297.66,236.95 298.25,238.08 298.84,239.21 299.44,240.34 300.03,241.46 300.64,242.58 301.24,243.7 301.85,244.82 302.46,245.93 303.08,247.04 303.7,248.15 304.32,249.25 304.95,250.35 305.58,251.44 306.22,252.53 306.86,253.62 307.51,254.7 308.16,255.78 308.82,256.85 309.48,257.91 310.15,258.97 310.82,260.02 311.5,261.07 312.19,262.11 312.88,263.14 313.59,264.17 314.29,265.19 315.01,266.2 315.73,267.21 316.46,268.2 317.19,269.19 317.94,270.17 318.69,271.15 319.45,272.11 320.22,273.06 320.99,274.01 321.78,274.95 322.57,275.87 323.38,276.79 324.19,277.7 325.01,278.6 325.84,279.48 326.68,280.36 327.53,281.22 328.39,282.08 329.26,282.92 330.15,283.75 331.04,284.57 331.94,285.38 332.85,286.18 333.77,286.96 334.7,287.74 335.65,288.5 336.6,289.25 337.56,289.99 338.53,290.72 339.51,291.44 340.49,292.14 341.49,292.84 342.49,293.52 343.51,294.2 344.53,294.86 345.56,295.51 346.6,296.16 347.64,296.79 348.7,297.41 349.76,298.02 350.83,298.61 351.91,299.2 352.99,299.78 354.08,300.35 355.18,300.9 356.28,301.45 357.39,301.99 358.51,302.51 359.63,303.03 360.76,303.54 361.9,304.03 363.04,304.52 364.19,305 365.34,305.46 366.5,305.92 367.66,306.36 368.83,306.8 370.01,307.23 371.19,307.65 372.37,308.05 373.56,308.45 374.75,308.84 375.95,309.22 377.15,309.59 378.35,309.95 379.56,310.3 380.77,310.64 381.99,310.98 383.21,311.3 384.43,311.62 385.66,311.92 386.89,312.22 388.12,312.51 389.35,312.79 390.59,313.06 391.83,313.32 393.07,313.57 394.32,313.81 395.56,314.05 396.81,314.28 398.06,314.5 399.31,314.71 400.56,314.91 401.82,315.1 403.07,315.28 404.32,315.46 405.58,315.63 406.84,315.79 408.1,315.94 409.35,316.09 410.61,316.22 411.87,316.35 413.13,316.47 414.38,316.58 415.64,316.69 416.9,316.78 418.15,316.87 419.41,316.95 420.66,317.03 421.92,317.09 423.17,317.15 424.42,317.2 425.67,317.25 426.92,317.28 428.16,317.31 429.41,317.34 430.65,317.35 431.89,317.36 433.12,317.36 434.36,317.35 435.59,317.34 436.82,317.32 438.05,317.29 439.27,317.26 440.49,317.22 441.7,317.17 442.92,317.12 444.12,317.06 445.33,316.99 446.53,316.91 447.73,316.83 448.92,316.75" fill="none" stroke="#3a7bbf" stroke-width="4.2" stroke-linejoin="round" stroke-linecap="round" />
<polyline points="266.16,181.89 266.57,183.17 266.97,184.45 267.37,185.73 267.75,187.01 268.13,188.28 268.5,189.57 268.86,190.85 269.22,192.13 269.57,193.41 269.91,194.69 270.25,195.97 270.59,197.26 270.92,198.54 271.24,199.82 271.56,201.11 271.88,202.39 272.19,203.67 272.5,204.96 272.81,206.24 273.11,207.53 273.42,208.82 273.72,210.1 274.02,211.39 274.32,212.68 274.62,213.96 274.92,215.25 275.22,216.54 275.52,217.83 275.83,219.12 276.13,220.41 276.44,221.7 276.74,222.99 277.05,224.28 277.37,225.57 277.68,226.86 278,228.15 278.33,229.44 278.66,230.73 278.99,232.02 279.33,233.32 279.67,234.61 280.02,235.9 280.38,237.2 280.74,238.49 281.11,239.78 281.49,241.08 281.87,242.37 282.26,243.66 282.66,244.96 283.07,246.25 283.49,247.54 283.92,248.82 284.35,250.11 284.79,251.39 285.25,252.68 285.71,253.95 286.19,255.23 286.67,256.5 287.16,257.77 287.67,259.04 288.19,260.3 288.71,261.56 289.25,262.81 289.8,264.06 290.37,265.3 290.94,266.53 291.53,267.76 292.13,268.98 292.75,270.19 293.38,271.39 294.02,272.58 294.67,273.76 295.34,274.93 296.03,276.09 296.73,277.23 297.44,278.37 298.17,279.48 298.92,280.59 299.68,281.67 300.45,282.75 301.24,283.8 302.05,284.84 302.88,285.86 303.72,286.86 304.58,287.84 305.46,288.81 306.35,289.75 307.27,290.67 308.2,291.57 309.14,292.45 310.11,293.31 311.09,294.15 312.09,294.96 313.1,295.76 314.13,296.54 315.17,297.3 316.23,298.04 317.3,298.76 318.39,299.47 319.49,300.15 320.6,300.82 321.73,301.46 322.87,302.09 324.02,302.71 325.18,303.3 326.35,303.88 327.54,304.44 328.73,304.99 329.94,305.52 331.15,306.03 332.37,306.53 333.61,307.01 334.85,307.47 336.09,307.92 337.35,308.36 338.61,308.78 339.88,309.19 341.16,309.58 342.45,309.96 343.73,310.32 345.03,310.67 346.33,311.01 347.63,311.34 348.94,311.65 350.25,311.95 351.57,312.24 352.89,312.51 354.21,312.77 355.53,313.03 356.86,313.27 358.19,313.5 359.52,313.72 360.85,313.92 362.18,314.12 363.51,314.31 364.85,314.49 366.18,314.66 367.52,314.81 368.86,314.96 370.19,315.11 371.53,315.24 372.87,315.37 374.21,315.48 375.56,315.59 376.9,315.7 378.24,315.79 379.59,315.88 380.93,315.96 382.28,316.04 383.62,316.11 384.97,316.17 386.31,316.23 387.66,316.29 389,316.34 390.35,316.38 391.7,316.42 393.04,316.46 394.39,316.49 395.74,316.52 397.08,316.55 398.43,316.57 399.78,316.6 401.12,316.61 402.47,316.63 403.81,316.65 405.16,316.66 406.5,316.67 407.85,316.68 409.19,316.7 410.53,316.71 411.88,316.72 413.22,316.73 414.56,316.74 415.9,316.75 417.23,316.76 418.57,316.78 419.91,316.79 421.24,316.81 422.58,316.83 423.91,316.85 425.24,316.88 426.57,316.9 427.9,316.93 429.23,316.97 430.56,317.01 431.88,317.05 433.2,317.09 434.53,317.14 435.85,317.2 437.16,317.26 438.48,317.33 439.8,317.4 441.11,317.48 442.42,317.56 443.73,317.65 445.03,317.75 446.34,317.85 447.64,317.97 448.94,318.09" fill="none" stroke="#fba919" stroke-width="4.2" stroke-linejoin="round" stroke-linecap="round" />
<polyline points="266.19,181.58 266.26,183.1 266.34,184.62 266.42,186.14 266.5,187.66 266.57,189.18 266.65,190.7 266.73,192.22 266.81,193.74 266.89,195.25 266.97,196.77 267.05,198.29 267.13,199.8 267.21,201.32 267.29,202.83 267.38,204.35 267.46,205.86 267.54,207.38 267.62,208.89 267.71,210.41 267.79,211.92 267.87,213.43 267.95,214.95 268.04,216.46 268.12,217.97 268.2,219.48 268.29,221 268.37,222.51 268.45,224.02 268.54,225.53 268.62,227.05 268.71,228.56 268.79,230.07 268.87,231.58 268.96,233.09 269.04,234.6 269.12,236.12 269.21,237.63 269.29,239.14 269.37,240.65 269.46,242.17 269.54,243.68 269.62,245.19 269.7,246.7 269.79,248.22 269.87,249.73 269.95,251.24 270.03,252.76 270.11,254.27 270.19,255.78 270.27,257.3 270.35,258.81 270.43,260.33 270.51,261.84 270.59,263.36 270.67,264.87 270.75,266.39 270.83,267.91 270.9,269.42 270.98,270.94 271.06,272.46 271.13,273.98 271.21,275.5 271.28,277.02 271.36,278.54 271.43,280.06 271.51,281.58 271.6,283.1 271.69,284.62 271.8,286.14 271.93,287.66 272.07,289.18 272.23,290.7 272.42,292.22 272.64,293.74 272.89,295.26 273.16,296.77 273.48,298.29 273.84,299.8 274.24,301.31 274.7,302.78 275.23,304.21 275.84,305.59 276.55,306.89 277.36,308.09 278.28,309.2 279.32,310.19 280.45,311.08 281.66,311.88 282.94,312.59 284.27,313.22 285.63,313.78 287.02,314.28 288.42,314.71 289.85,315.09 291.3,315.42 292.76,315.7 294.24,315.93 295.73,316.12 297.24,316.28 298.76,316.4 300.29,316.5 301.82,316.57 303.37,316.62 304.91,316.65 306.46,316.67 308.02,316.68 309.57,316.69 311.12,316.69 312.67,316.7 314.22,316.71 315.77,316.72 317.31,316.73 318.86,316.75 320.4,316.76 321.94,316.78 323.47,316.79 325.01,316.81 326.54,316.83 328.08,316.85 329.61,316.87 331.14,316.9 332.66,316.92 334.19,316.94 335.72,316.97 337.24,317 338.76,317.02 340.29,317.05 341.81,317.08 343.33,317.11 344.84,317.14 346.36,317.17 347.88,317.2 349.39,317.23 350.91,317.26 352.42,317.3 353.93,317.33 355.44,317.36 356.95,317.4 358.46,317.43 359.97,317.46 361.48,317.5 362.99,317.53 364.5,317.57 366,317.6 367.51,317.64 369.02,317.67 370.52,317.7 372.03,317.74 373.53,317.77 375.04,317.8 376.54,317.84 378.05,317.87 379.55,317.9 381.06,317.94 382.56,317.97 384.06,318 385.57,318.03 387.07,318.06 388.58,318.09 390.08,318.12 391.59,318.15 393.09,318.17 394.6,318.2 396.1,318.23 397.61,318.25 399.11,318.27 400.62,318.3 402.13,318.32 403.63,318.34 405.14,318.36 406.65,318.38 408.16,318.4 409.67,318.41 411.18,318.43 412.69,318.44 414.21,318.45 415.72,318.46 417.24,318.47 418.75,318.48 420.27,318.49 421.79,318.49 423.3,318.5 424.82,318.5 426.34,318.5 427.87,318.5 429.39,318.49 430.91,318.49 432.44,318.48 433.97,318.47 435.5,318.46 437.03,318.45 438.56,318.43 440.09,318.41 441.63,318.39 443.16,318.37 444.7,318.35 446.24,318.32 447.78,318.29 449.33,318.26" fill="none" stroke="#404040" stroke-width="4.2" stroke-linejoin="round" stroke-linecap="round" />
<polyline points="265.89,181.88 265.96,183.4 266.04,184.92 266.12,186.44 266.2,187.96 266.27,189.48 266.35,191 266.43,192.52 266.51,194.04 266.59,195.55 266.67,197.07 266.75,198.59 266.83,200.1 266.91,201.62 266.99,203.13 267.08,204.65 267.16,206.16 267.24,207.68 267.32,209.19 267.41,210.71 267.49,212.22 267.57,213.73 267.65,215.25 267.74,216.76 267.82,218.27 267.9,219.78 267.99,221.3 268.07,222.81 268.15,224.32 268.24,225.83 268.32,227.35 268.41,228.86 268.49,230.37 268.57,231.88 268.66,233.39 268.74,234.9 268.82,236.42 268.91,237.93 268.99,239.44 269.07,240.95 269.16,242.47 269.24,243.98 269.32,245.49 269.4,247 269.49,248.52 269.57,250.03 269.65,251.54 269.73,253.06 269.81,254.57 269.89,256.08 269.97,257.6 270.05,259.11 270.13,260.63 270.21,262.14 270.29,263.66 270.37,265.17 270.45,266.69 270.53,268.21 270.6,269.72 270.68,271.24 270.76,272.76 270.83,274.28 270.91,275.8 270.98,277.32 271.06,278.84 271.13,280.36 271.21,281.88 271.3,283.4 271.39,284.92 271.5,286.44 271.63,287.96 271.77,289.48 271.93,291 272.12,292.52 272.34,294.04 272.59,295.56 272.86,297.07 273.18,298.59 273.54,300.1 273.94,301.61 274.4,303.08 274.93,304.51 275.54,305.89 276.25,307.19 277.06,308.39 277.98,309.5 279.02,310.49 280.15,311.38 281.36,312.18 282.64,312.89 283.97,313.52 285.33,314.08 286.72,314.58 288.12,315.01 289.55,315.39 291,315.72 292.46,316 293.94,316.23 295.43,316.42 296.94,316.58 298.46,316.7 299.99,316.8 301.52,316.87 303.07,316.92 304.61,316.95 306.16,316.97 307.72,316.98 309.27,316.99 310.82,316.99 312.37,317 313.92,317.01 315.47,317.02 317.01,317.03 318.56,317.05 320.1,317.06 321.64,317.08 323.17,317.09 324.71,317.11 326.24,317.13 327.78,317.15 329.31,317.17 330.84,317.2 332.36,317.22 333.89,317.24 335.42,317.27 336.94,317.3 338.46,317.32 339.99,317.35 341.51,317.38 343.03,317.41 344.54,317.44 346.06,317.47 347.58,317.5 349.09,317.53 350.61,317.56 352.12,317.6 353.63,317.63 355.14,317.66 356.65,317.7 358.16,317.73 359.67,317.76 361.18,317.8 362.69,317.83 364.2,317.87 365.7,317.9 367.21,317.94 368.72,317.97 370.22,318 371.73,318.04 373.23,318.07 374.74,318.1 376.24,318.14 377.75,318.17 379.25,318.2 380.76,318.24 382.26,318.27 383.76,318.3 385.27,318.33 386.77,318.36 388.28,318.39 389.78,318.42 391.29,318.45 392.79,318.47 394.3,318.5 395.8,318.53 397.31,318.55 398.81,318.57 400.32,318.6 401.83,318.62 403.33,318.64 404.84,318.66 406.35,318.68 407.86,318.7 409.37,318.71 410.88,318.73 412.39,318.74 413.91,318.75 415.42,318.76 416.94,318.77 418.45,318.78 419.97,318.79 421.49,318.79 423,318.8 424.52,318.8 426.04,318.8 427.57,318.8 429.09,318.79 430.61,318.79 432.14,318.78 433.67,318.77 435.2,318.76 436.73,318.75 438.26,318.73 439.79,318.71 441.33,318.69 442.86,318.67 444.4,318.65 445.94,318.62 447.48,318.59 449.03,318.56" fill="none" stroke="#c8304f" stroke-width="4.0" stroke-linejoin="round" stroke-linecap="round" />
</g>
<rect x="365.7" y="193.7" width="4" height="4" fill="#404040"/>
<text x="377.7" y="198.4" font-size="7.6" text-anchor="start" fill="#000" >Control - 3.00 &#956;s</text>
<polygon points="367.7,202.27 365.3,206.64 370.1,206.64" fill="#fba919"/>
<text x="377.7" y="207.5" font-size="7.6" text-anchor="start" fill="#000" >5NT4D - 14.02 &#956;s</text>
<circle cx="367.7" cy="214.4" r="2.1" fill="#3a7bbf"/>
<text x="377.7" y="217.1" font-size="7.6" text-anchor="start" fill="#000" >2NTD - 32.31 &#956;s</text>
<polygon points="367.7,226.63 365.3,222.26 370.1,222.26" fill="#c8304f"/>
<text x="377.7" y="226.8" font-size="7.6" text-anchor="start" fill="#000" >5NT3D - 7.76 &#956;s</text>
<rect x="265.5" y="181.7" width="184.5" height="143.9" fill="none" stroke="#000" stroke-width="1.5"/>
<text x="239.2" y="188.2" font-size="12.5" text-anchor="start" fill="#000" >e</text>
<line x1="493.1" y1="318.7" x2="496.3" y2="318.7" stroke="#000" stroke-width="1.25" />
<line x1="493.1" y1="291.3" x2="496.3" y2="291.3" stroke="#000" stroke-width="1.25" />
<line x1="493.1" y1="263.9" x2="496.3" y2="263.9" stroke="#000" stroke-width="1.25" />
<line x1="493.1" y1="236.5" x2="496.3" y2="236.5" stroke="#000" stroke-width="1.25" />
<line x1="493.1" y1="209.1" x2="496.3" y2="209.1" stroke="#000" stroke-width="1.25" />
<line x1="493.1" y1="181.7" x2="496.3" y2="181.7" stroke="#000" stroke-width="1.25" />
<line x1="494.4" y1="305" x2="496.3" y2="305" stroke="#000" stroke-width="1.25" />
<line x1="494.4" y1="277.6" x2="496.3" y2="277.6" stroke="#000" stroke-width="1.25" />
<line x1="494.4" y1="250.2" x2="496.3" y2="250.2" stroke="#000" stroke-width="1.25" />
<line x1="494.4" y1="222.8" x2="496.3" y2="222.8" stroke="#000" stroke-width="1.25" />
<line x1="494.4" y1="195.4" x2="496.3" y2="195.4" stroke="#000" stroke-width="1.25" />
<text x="491.2" y="321" font-size="8.3" text-anchor="end" fill="#000" >0.0</text>
<text x="491.2" y="293.6" font-size="8.3" text-anchor="end" fill="#000" >0.2</text>
<text x="491.2" y="266.2" font-size="8.3" text-anchor="end" fill="#000" >0.4</text>
<text x="491.2" y="238.8" font-size="8.3" text-anchor="end" fill="#000" >0.6</text>
<text x="491.2" y="211.4" font-size="8.3" text-anchor="end" fill="#000" >0.8</text>
<text x="491.2" y="184" font-size="8.3" text-anchor="end" fill="#000" >1.0</text>
<line x1="496.3" y1="325.5" x2="496.3" y2="328.7" stroke="#000" stroke-width="1.25" />
<line x1="542.3" y1="325.5" x2="542.3" y2="328.7" stroke="#000" stroke-width="1.25" />
<line x1="588.3" y1="325.5" x2="588.3" y2="328.7" stroke="#000" stroke-width="1.25" />
<line x1="634.3" y1="325.5" x2="634.3" y2="328.7" stroke="#000" stroke-width="1.25" />
<line x1="680.3" y1="325.5" x2="680.3" y2="328.7" stroke="#000" stroke-width="1.25" />
<line x1="519.3" y1="325.5" x2="519.3" y2="327.4" stroke="#000" stroke-width="1.25" />
<line x1="565.3" y1="325.5" x2="565.3" y2="327.4" stroke="#000" stroke-width="1.25" />
<line x1="611.3" y1="325.5" x2="611.3" y2="327.4" stroke="#000" stroke-width="1.25" />
<line x1="657.3" y1="325.5" x2="657.3" y2="327.4" stroke="#000" stroke-width="1.25" />
<text x="496.3" y="337" font-size="8.3" text-anchor="middle" fill="#000" >0</text>
<text x="542.3" y="337" font-size="8.3" text-anchor="middle" fill="#000" >5</text>
<text x="588.3" y="337" font-size="8.3" text-anchor="middle" fill="#000" >10</text>
<text x="634.3" y="337" font-size="8.3" text-anchor="middle" fill="#000" >15</text>
<text x="680.3" y="337" font-size="8.3" text-anchor="middle" fill="#000" >20</text>
<text x="588.6" y="347.3" font-size="9.8" text-anchor="middle" fill="#000" >Time (&#956;s)</text>
<text transform="translate(474.8,254.5) rotate(-90)" font-size="9.5" text-anchor="middle" fill="#000">Normalized current (a.u.)</text>
<clipPath id="cf"><rect x="496.3" y="181.7" width="184.3" height="144"/></clipPath><g clip-path="url(#cf)">
<polyline points="496.44,183.54 496.7,184.87 496.94,186.21 497.17,187.55 497.38,188.89 497.59,190.25 497.78,191.6 497.97,192.97 498.14,194.33 498.31,195.71 498.46,197.08 498.61,198.46 498.75,199.85 498.88,201.24 499.01,202.63 499.13,204.02 499.25,205.42 499.36,206.82 499.46,208.23 499.57,209.64 499.67,211.05 499.76,212.46 499.86,213.87 499.95,215.29 500.04,216.71 500.13,218.13 500.22,219.55 500.31,220.97 500.4,222.4 500.5,223.82 500.59,225.25 500.69,226.68 500.79,228.1 500.9,229.53 501,230.96 501.12,232.39 501.24,233.82 501.36,235.24 501.49,236.67 501.63,238.09 501.78,239.52 501.93,240.94 502.09,242.37 502.26,243.79 502.44,245.21 502.63,246.62 502.84,248.04 503.05,249.45 503.27,250.86 503.51,252.27 503.76,253.68 504.02,255.08 504.3,256.48 504.59,257.88 504.89,259.27 505.22,260.66 505.55,262.05 505.91,263.43 506.28,264.81 506.67,266.18 507.07,267.55 507.5,268.91 507.94,270.27 508.4,271.62 508.88,272.96 509.38,274.29 509.9,275.61 510.44,276.93 510.99,278.23 511.57,279.52 512.17,280.79 512.78,282.06 513.42,283.31 514.08,284.54 514.76,285.76 515.45,286.96 516.17,288.14 516.91,289.31 517.68,290.45 518.46,291.58 519.26,292.69 520.09,293.77 520.94,294.83 521.81,295.87 522.71,296.88 523.62,297.87 524.56,298.84 525.52,299.78 526.51,300.69 527.52,301.57 528.55,302.42 529.61,303.25 530.69,304.04 531.79,304.81 532.92,305.54 534.07,306.24 535.24,306.92 536.44,307.56 537.65,308.17 538.89,308.76 540.14,309.33 541.41,309.86 542.7,310.37 544,310.86 545.32,311.32 546.66,311.76 548.01,312.18 549.37,312.58 550.74,312.96 552.13,313.32 553.52,313.66 554.93,313.98 556.34,314.28 557.77,314.57 559.2,314.84 560.63,315.09 562.07,315.34 563.52,315.56 564.97,315.78 566.42,315.98 567.88,316.18 569.34,316.36 570.79,316.53 572.25,316.69 573.71,316.85 575.16,317 576.61,317.14 578.06,317.27 579.51,317.4 580.95,317.53 582.38,317.65 583.82,317.76 585.25,317.87 586.67,317.98 588.1,318.08 589.52,318.17 590.93,318.26 592.35,318.35 593.76,318.43 595.17,318.51 596.57,318.59 597.98,318.66 599.38,318.72 600.78,318.79 602.17,318.85 603.57,318.9 604.96,318.96 606.35,319.01 607.74,319.05 609.13,319.1 610.52,319.14 611.9,319.18 613.29,319.21 614.67,319.25 616.05,319.28 617.44,319.31 618.82,319.33 620.2,319.36 621.58,319.38 622.96,319.4 624.34,319.42 625.72,319.44 627.09,319.46 628.47,319.47 629.85,319.48 631.23,319.5 632.61,319.51 634,319.52 635.38,319.53 636.76,319.54 638.14,319.55 639.53,319.56 640.91,319.57 642.3,319.58 643.69,319.59 645.08,319.59 646.47,319.6 647.86,319.61 649.26,319.62 650.66,319.63 652.06,319.64 653.46,319.66 654.86,319.67 656.27,319.68 657.68,319.7 659.09,319.71 660.5,319.73 661.92,319.75 663.34,319.77 664.76,319.79 666.19,319.82 667.62,319.84 669.06,319.87 670.49,319.9 671.93,319.94 673.38,319.97 674.83,320.01 676.28,320.05 677.74,320.09 679.2,320.14" fill="none" stroke="#3a7bbf" stroke-width="4.2" stroke-linejoin="round" stroke-linecap="round" />
<polyline points="497.24,182.04 497.5,183.37 497.74,184.71 497.97,186.05 498.18,187.39 498.39,188.75 498.58,190.1 498.77,191.47 498.94,192.83 499.11,194.21 499.26,195.58 499.41,196.96 499.55,198.35 499.68,199.74 499.81,201.13 499.93,202.52 500.05,203.92 500.16,205.32 500.26,206.73 500.37,208.14 500.47,209.55 500.56,210.96 500.66,212.37 500.75,213.79 500.84,215.21 500.93,216.63 501.02,218.05 501.11,219.47 501.2,220.9 501.3,222.32 501.39,223.75 501.49,225.18 501.59,226.6 501.7,228.03 501.8,229.46 501.92,230.89 502.04,232.32 502.16,233.74 502.29,235.17 502.43,236.59 502.58,238.02 502.73,239.44 502.89,240.87 503.06,242.29 503.24,243.71 503.43,245.12 503.64,246.54 503.85,247.95 504.07,249.36 504.31,250.77 504.56,252.18 504.82,253.58 505.1,254.98 505.39,256.38 505.69,257.77 506.02,259.16 506.35,260.55 506.71,261.93 507.08,263.31 507.47,264.68 507.87,266.05 508.3,267.41 508.74,268.77 509.2,270.12 509.68,271.46 510.18,272.79 510.7,274.11 511.24,275.43 511.79,276.73 512.37,278.02 512.97,279.29 513.58,280.56 514.22,281.81 514.88,283.04 515.56,284.26 516.25,285.46 516.97,286.64 517.71,287.81 518.48,288.95 519.26,290.08 520.06,291.19 520.89,292.27 521.74,293.33 522.61,294.37 523.51,295.38 524.42,296.37 525.36,297.34 526.32,298.28 527.31,299.19 528.32,300.07 529.35,300.92 530.41,301.75 531.49,302.54 532.59,303.31 533.72,304.04 534.87,304.74 536.04,305.42 537.24,306.06 538.45,306.67 539.69,307.26 540.94,307.83 542.21,308.36 543.5,308.87 544.8,309.36 546.12,309.82 547.46,310.26 548.81,310.68 550.17,311.08 551.54,311.46 552.93,311.82 554.32,312.16 555.73,312.48 557.14,312.78 558.57,313.07 560,313.34 561.43,313.59 562.87,313.84 564.32,314.06 565.77,314.28 567.22,314.48 568.68,314.68 570.14,314.86 571.59,315.03 573.05,315.19 574.51,315.35 575.96,315.5 577.41,315.64 578.86,315.77 580.31,315.9 581.75,316.03 583.18,316.15 584.62,316.26 586.05,316.37 587.47,316.48 588.9,316.58 590.32,316.67 591.73,316.76 593.15,316.85 594.56,316.93 595.97,317.01 597.37,317.09 598.78,317.16 600.18,317.22 601.58,317.29 602.97,317.35 604.37,317.4 605.76,317.46 607.15,317.51 608.54,317.55 609.93,317.6 611.32,317.64 612.7,317.68 614.09,317.71 615.47,317.75 616.85,317.78 618.24,317.81 619.62,317.83 621,317.86 622.38,317.88 623.76,317.9 625.14,317.92 626.52,317.94 627.89,317.96 629.27,317.97 630.65,317.98 632.03,318 633.41,318.01 634.8,318.02 636.18,318.03 637.56,318.04 638.94,318.05 640.33,318.06 641.71,318.07 643.1,318.08 644.49,318.09 645.88,318.09 647.27,318.1 648.66,318.11 650.06,318.12 651.46,318.13 652.86,318.14 654.26,318.16 655.66,318.17 657.07,318.18 658.48,318.2 659.89,318.21 661.3,318.23 662.72,318.25 664.14,318.27 665.56,318.29 666.99,318.32 668.42,318.34 669.86,318.37 671.29,318.4 672.73,318.44 674.18,318.47 675.63,318.51 677.08,318.55 678.54,318.59 680,318.64" fill="none" stroke="#fba919" stroke-width="4.2" stroke-linejoin="round" stroke-linecap="round" />
<polyline points="497.98,181.05 498.15,182.29 498.31,183.54 498.47,184.8 498.61,186.07 498.75,187.36 498.88,188.65 499.01,189.95 499.13,191.26 499.24,192.58 499.35,193.91 499.45,195.24 499.55,196.59 499.65,197.94 499.74,199.29 499.83,200.66 499.92,202.02 500.01,203.4 500.09,204.78 500.18,206.16 500.27,207.55 500.35,208.94 500.44,210.34 500.53,211.74 500.62,213.14 500.72,214.54 500.82,215.95 500.92,217.35 501.02,218.76 501.13,220.17 501.25,221.58 501.37,222.99 501.5,224.4 501.64,225.81 501.78,227.22 501.93,228.62 502.09,230.03 502.26,231.43 502.43,232.83 502.62,234.23 502.82,235.62 503.03,237.01 503.25,238.4 503.48,239.78 503.73,241.15 503.99,242.52 504.26,243.89 504.54,245.24 504.85,246.6 505.16,247.94 505.49,249.28 505.84,250.61 506.21,251.93 506.59,253.24 506.99,254.55 507.41,255.84 507.84,257.13 508.3,258.4 508.78,259.67 509.27,260.92 509.79,262.17 510.33,263.4 510.89,264.62 511.47,265.83 512.08,267.02 512.71,268.2 513.36,269.37 514.04,270.52 514.74,271.66 515.47,272.79 516.22,273.9 517,275 517.79,276.08 518.61,277.15 519.45,278.2 520.32,279.24 521.2,280.26 522.1,281.26 523.02,282.26 523.96,283.23 524.92,284.19 525.89,285.14 526.88,286.06 527.89,286.98 528.92,287.87 529.95,288.75 531.01,289.62 532.07,290.46 533.15,291.29 534.25,292.11 535.35,292.9 536.47,293.68 537.59,294.45 538.73,295.19 539.88,295.92 541.03,296.63 542.2,297.33 543.37,298.01 544.55,298.66 545.74,299.31 546.93,299.93 548.14,300.54 549.35,301.13 550.57,301.71 551.79,302.27 553.02,302.82 554.26,303.35 555.51,303.86 556.76,304.36 558.02,304.85 559.28,305.32 560.55,305.78 561.83,306.22 563.11,306.65 564.4,307.07 565.69,307.47 566.99,307.86 568.3,308.23 569.61,308.6 570.92,308.95 572.24,309.29 573.57,309.62 574.89,309.94 576.23,310.24 577.56,310.54 578.91,310.82 580.25,311.09 581.6,311.35 582.95,311.61 584.31,311.85 585.67,312.08 587.03,312.3 588.4,312.52 589.77,312.72 591.14,312.92 592.52,313.1 593.9,313.28 595.28,313.45 596.66,313.62 598.04,313.77 599.43,313.92 600.82,314.06 602.21,314.19 603.6,314.32 604.99,314.44 606.39,314.56 607.78,314.66 609.18,314.77 610.58,314.86 611.98,314.96 613.38,315.04 614.78,315.13 616.18,315.2 617.58,315.28 618.98,315.35 620.38,315.41 621.78,315.47 623.18,315.53 624.58,315.59 625.97,315.64 627.37,315.69 628.77,315.73 630.16,315.78 631.56,315.82 632.95,315.86 634.34,315.9 635.73,315.94 637.12,315.98 638.51,316.01 639.89,316.05 641.27,316.08 642.65,316.12 644.03,316.15 645.4,316.19 646.77,316.22 648.14,316.26 649.51,316.3 650.87,316.34 652.23,316.38 653.58,316.42 654.94,316.47 656.28,316.51 657.63,316.56 658.97,316.61 660.3,316.67 661.64,316.73 662.96,316.79 664.29,316.85 665.6,316.92 666.92,316.99 668.22,317.07 669.53,317.15 670.82,317.24 672.12,317.33 673.4,317.43 674.68,317.53 675.96,317.64 677.23,317.75 678.49,317.87 679.75,318" fill="none" stroke="#404040" stroke-width="4.5" stroke-linejoin="round" stroke-linecap="round" />
<polyline points="497.73,182.05 497.9,183.29 498.06,184.54 498.22,185.8 498.36,187.07 498.5,188.36 498.63,189.65 498.76,190.95 498.88,192.26 498.99,193.58 499.1,194.91 499.2,196.24 499.3,197.59 499.4,198.94 499.49,200.29 499.58,201.66 499.67,203.02 499.76,204.4 499.84,205.78 499.93,207.16 500.02,208.55 500.1,209.94 500.19,211.34 500.28,212.74 500.37,214.14 500.47,215.54 500.57,216.95 500.67,218.35 500.77,219.76 500.88,221.17 501,222.58 501.12,223.99 501.25,225.4 501.39,226.81 501.53,228.22 501.68,229.62 501.84,231.03 502.01,232.43 502.18,233.83 502.37,235.23 502.57,236.62 502.78,238.01 503,239.4 503.23,240.78 503.48,242.15 503.74,243.52 504.01,244.89 504.29,246.24 504.6,247.6 504.91,248.94 505.24,250.28 505.59,251.61 505.96,252.93 506.34,254.24 506.74,255.55 507.16,256.84 507.59,258.13 508.05,259.4 508.53,260.67 509.02,261.92 509.54,263.17 510.08,264.4 510.64,265.62 511.22,266.83 511.83,268.02 512.46,269.2 513.11,270.37 513.79,271.52 514.49,272.66 515.22,273.79 515.97,274.9 516.75,276 517.54,277.08 518.36,278.15 519.2,279.2 520.07,280.24 520.95,281.26 521.85,282.26 522.77,283.26 523.71,284.23 524.67,285.19 525.64,286.14 526.63,287.06 527.64,287.98 528.67,288.87 529.7,289.75 530.76,290.62 531.82,291.46 532.9,292.29 534,293.11 535.1,293.9 536.22,294.68 537.34,295.45 538.48,296.19 539.63,296.92 540.78,297.63 541.95,298.33 543.12,299.01 544.3,299.66 545.49,300.31 546.68,300.93 547.89,301.54 549.1,302.13 550.32,302.71 551.54,303.27 552.77,303.82 554.01,304.35 555.26,304.86 556.51,305.36 557.77,305.85 559.03,306.32 560.3,306.78 561.58,307.22 562.86,307.65 564.15,308.07 565.44,308.47 566.74,308.86 568.05,309.23 569.36,309.6 570.67,309.95 571.99,310.29 573.32,310.62 574.64,310.94 575.98,311.24 577.31,311.54 578.66,311.82 580,312.09 581.35,312.35 582.7,312.61 584.06,312.85 585.42,313.08 586.78,313.3 588.15,313.52 589.52,313.72 590.89,313.92 592.27,314.1 593.65,314.28 595.03,314.45 596.41,314.62 597.79,314.77 599.18,314.92 600.57,315.06 601.96,315.19 603.35,315.32 604.74,315.44 606.14,315.56 607.53,315.66 608.93,315.77 610.33,315.86 611.73,315.96 613.13,316.04 614.53,316.13 615.93,316.2 617.33,316.28 618.73,316.35 620.13,316.41 621.53,316.47 622.93,316.53 624.33,316.59 625.72,316.64 627.12,316.69 628.52,316.73 629.91,316.78 631.31,316.82 632.7,316.86 634.09,316.9 635.48,316.94 636.87,316.98 638.26,317.01 639.64,317.05 641.02,317.08 642.4,317.12 643.78,317.15 645.15,317.19 646.52,317.22 647.89,317.26 649.26,317.3 650.62,317.34 651.98,317.38 653.33,317.42 654.69,317.47 656.03,317.51 657.38,317.56 658.72,317.61 660.05,317.67 661.39,317.73 662.71,317.79 664.04,317.85 665.35,317.92 666.67,317.99 667.97,318.07 669.28,318.15 670.57,318.24 671.87,318.33 673.15,318.43 674.43,318.53 675.71,318.64 676.98,318.75 678.24,318.87 679.5,319" fill="none" stroke="#c8304f" stroke-width="4.5" stroke-linejoin="round" stroke-linecap="round" />
</g>
<rect x="598.6" y="192.5" width="4" height="4" fill="#404040"/>
<text x="610.4" y="197.2" font-size="7.6" text-anchor="start" fill="#000" >Control - 1.67 &#956;s</text>
<polygon points="600.6,201.37 598.2,205.74 603,205.74" fill="#fba919"/>
<text x="610.4" y="206.6" font-size="7.6" text-anchor="start" fill="#000" >5NT4D - 1.28 &#956;s</text>
<circle cx="600.6" cy="213.2" r="2.1" fill="#3a7bbf"/>
<text x="610.4" y="215.9" font-size="7.6" text-anchor="start" fill="#000" >2NTD - 1.19 &#956;s</text>
<polygon points="600.6,225.43 598.2,221.06 603,221.06" fill="#c8304f"/>
<text x="610.4" y="225.6" font-size="7.6" text-anchor="start" fill="#000" >5NT3D - 1.57 &#956;s</text>
<rect x="496.3" y="181.7" width="184.3" height="143.8" fill="none" stroke="#000" stroke-width="1.5"/>
<text x="471" y="187.9" font-size="12.5" text-anchor="start" fill="#000" >f</text>
<line x1="30.2" y1="502.2" x2="34.6" y2="502.2" stroke="#000" stroke-width="1.25" />
<line x1="30.2" y1="481.3" x2="34.6" y2="481.3" stroke="#000" stroke-width="1.25" />
<line x1="30.2" y1="460.4" x2="34.6" y2="460.4" stroke="#000" stroke-width="1.25" />
<line x1="30.2" y1="439.5" x2="34.6" y2="439.5" stroke="#000" stroke-width="1.25" />
<line x1="30.2" y1="418.6" x2="34.6" y2="418.6" stroke="#000" stroke-width="1.25" />
<line x1="30.2" y1="397.7" x2="34.6" y2="397.7" stroke="#000" stroke-width="1.25" />
<line x1="30.2" y1="376.8" x2="34.6" y2="376.8" stroke="#000" stroke-width="1.25" />
<line x1="30.2" y1="355.9" x2="34.6" y2="355.9" stroke="#000" stroke-width="1.25" />
<line x1="32.1" y1="491.75" x2="34.6" y2="491.75" stroke="#000" stroke-width="1.25" />
<line x1="32.1" y1="470.85" x2="34.6" y2="470.85" stroke="#000" stroke-width="1.25" />
<line x1="32.1" y1="449.95" x2="34.6" y2="449.95" stroke="#000" stroke-width="1.25" />
<line x1="32.1" y1="429.05" x2="34.6" y2="429.05" stroke="#000" stroke-width="1.25" />
<line x1="32.1" y1="408.15" x2="34.6" y2="408.15" stroke="#000" stroke-width="1.25" />
<line x1="32.1" y1="387.25" x2="34.6" y2="387.25" stroke="#000" stroke-width="1.25" />
<line x1="32.1" y1="366.35" x2="34.6" y2="366.35" stroke="#000" stroke-width="1.25" />
<text x="26.7" y="504.5" font-size="7.7" text-anchor="end" fill="#000" >0</text>
<text x="26.7" y="483.6" font-size="7.7" text-anchor="end" fill="#000" >4</text>
<text x="26.7" y="462.7" font-size="7.7" text-anchor="end" fill="#000" >8</text>
<text x="26.7" y="441.8" font-size="7.7" text-anchor="end" fill="#000" >12</text>
<text x="26.7" y="420.9" font-size="7.7" text-anchor="end" fill="#000" >16</text>
<text x="26.7" y="400" font-size="7.7" text-anchor="end" fill="#000" >20</text>
<text x="26.7" y="379.1" font-size="7.7" text-anchor="end" fill="#000" >24</text>
<text x="26.7" y="358.2" font-size="7.7" text-anchor="end" fill="#000" >28</text>
<line x1="34.6" y1="502.2" x2="34.6" y2="506.6" stroke="#000" stroke-width="1.25" />
<line x1="95.31" y1="502.2" x2="95.31" y2="506.6" stroke="#000" stroke-width="1.25" />
<line x1="156.02" y1="502.2" x2="156.02" y2="506.6" stroke="#000" stroke-width="1.25" />
<line x1="216.73" y1="502.2" x2="216.73" y2="506.6" stroke="#000" stroke-width="1.25" />
<line x1="277.44" y1="502.2" x2="277.44" y2="506.6" stroke="#000" stroke-width="1.25" />
<line x1="338.15" y1="502.2" x2="338.15" y2="506.6" stroke="#000" stroke-width="1.25" />
<line x1="64.95" y1="502.2" x2="64.95" y2="504.7" stroke="#000" stroke-width="1.25" />
<line x1="125.67" y1="502.2" x2="125.67" y2="504.7" stroke="#000" stroke-width="1.25" />
<line x1="186.38" y1="502.2" x2="186.38" y2="504.7" stroke="#000" stroke-width="1.25" />
<line x1="247.09" y1="502.2" x2="247.09" y2="504.7" stroke="#000" stroke-width="1.25" />
<line x1="307.8" y1="502.2" x2="307.8" y2="504.7" stroke="#000" stroke-width="1.25" />
<text x="34.6" y="516.7" font-size="8.1" text-anchor="middle" fill="#000" >0</text>
<text x="95.31" y="516.7" font-size="8.1" text-anchor="middle" fill="#000" >260</text>
<text x="156.02" y="516.7" font-size="8.1" text-anchor="middle" fill="#000" >520</text>
<text x="216.73" y="516.7" font-size="8.1" text-anchor="middle" fill="#000" >780</text>
<text x="277.44" y="516.7" font-size="8.1" text-anchor="middle" fill="#000" >1040</text>
<text x="338.15" y="516.7" font-size="8.1" text-anchor="middle" fill="#000" >1300</text>
<text x="187.8" y="527.5" font-size="9.7" text-anchor="middle" fill="#000" >Time (h)</text>
<text transform="translate(12.3,429.7) rotate(-90)" font-size="9.8" text-anchor="middle" fill="#000">PCE (%)</text>
<rect x="34.6" y="355.9" width="302.9" height="146.3" fill="none" stroke="#000" stroke-width="1.5"/>
<polyline points="34.6,374.9 79.2,386.4 101.5,393 124.2,398.2 174.1,410.8 241.4,425.4 325.3,430.4" fill="none" stroke="#404040" stroke-width="1.5" stroke-linejoin="round" stroke-linecap="round" />
<polyline points="34.6,369.4 79.2,376.3 101.5,384.7 124.2,393.6 174.1,402.4 241.4,408.9 325.3,415.5" fill="none" stroke="#fba919" stroke-width="1.5" stroke-linejoin="round" stroke-linecap="round" />
<polyline points="34.6,368.6 79.2,373.9 101.5,381.8 124.2,391.5 174.1,397.3 241.4,400.7 325.3,408.9" fill="none" stroke="#3a7bbf" stroke-width="1.5" stroke-linejoin="round" stroke-linecap="round" />
<polyline points="34.6,371.4 79.2,378.2 101.5,387.5 124.2,396.3 174.1,407 241.4,416.7 325.3,419.7" fill="none" stroke="#c8304f" stroke-width="1.5" stroke-linejoin="round" stroke-linecap="round" />
<line x1="34.6" y1="374.1" x2="34.6" y2="375.7" stroke="#404040" stroke-width="1.1" />
<line x1="32.1" y1="374.1" x2="37.1" y2="374.1" stroke="#404040" stroke-width="1.1" />
<line x1="32.1" y1="375.7" x2="37.1" y2="375.7" stroke="#404040" stroke-width="1.1" />
<rect x="33" y="373.3" width="3.2" height="3.2" fill="#404040"/>
<line x1="79.2" y1="383.5" x2="79.2" y2="389.3" stroke="#404040" stroke-width="1.1" />
<line x1="76.7" y1="383.5" x2="81.7" y2="383.5" stroke="#404040" stroke-width="1.1" />
<line x1="76.7" y1="389.3" x2="81.7" y2="389.3" stroke="#404040" stroke-width="1.1" />
<rect x="77.6" y="384.8" width="3.2" height="3.2" fill="#404040"/>
<line x1="101.5" y1="389.5" x2="101.5" y2="396.5" stroke="#404040" stroke-width="1.1" />
<line x1="99" y1="389.5" x2="104" y2="389.5" stroke="#404040" stroke-width="1.1" />
<line x1="99" y1="396.5" x2="104" y2="396.5" stroke="#404040" stroke-width="1.1" />
<rect x="99.9" y="391.4" width="3.2" height="3.2" fill="#404040"/>
<line x1="124.2" y1="397.3" x2="124.2" y2="399.1" stroke="#404040" stroke-width="1.1" />
<line x1="121.7" y1="397.3" x2="126.7" y2="397.3" stroke="#404040" stroke-width="1.1" />
<line x1="121.7" y1="399.1" x2="126.7" y2="399.1" stroke="#404040" stroke-width="1.1" />
<rect x="122.6" y="396.6" width="3.2" height="3.2" fill="#404040"/>
<line x1="174.1" y1="409.8" x2="174.1" y2="411.8" stroke="#404040" stroke-width="1.1" />
<line x1="171.6" y1="409.8" x2="176.6" y2="409.8" stroke="#404040" stroke-width="1.1" />
<line x1="171.6" y1="411.8" x2="176.6" y2="411.8" stroke="#404040" stroke-width="1.1" />
<rect x="172.5" y="409.2" width="3.2" height="3.2" fill="#404040"/>
<line x1="241.4" y1="421.9" x2="241.4" y2="428.9" stroke="#404040" stroke-width="1.1" />
<line x1="238.9" y1="421.9" x2="243.9" y2="421.9" stroke="#404040" stroke-width="1.1" />
<line x1="238.9" y1="428.9" x2="243.9" y2="428.9" stroke="#404040" stroke-width="1.1" />
<rect x="239.8" y="423.8" width="3.2" height="3.2" fill="#404040"/>
<line x1="325.3" y1="428.2" x2="325.3" y2="432.6" stroke="#404040" stroke-width="1.1" />
<line x1="322.8" y1="428.2" x2="327.8" y2="428.2" stroke="#404040" stroke-width="1.1" />
<line x1="322.8" y1="432.6" x2="327.8" y2="432.6" stroke="#404040" stroke-width="1.1" />
<rect x="323.7" y="428.8" width="3.2" height="3.2" fill="#404040"/>
<polygon points="34.6,367.38 32.68,370.87 36.52,370.87" fill="#fba919"/>
<line x1="79.2" y1="375.3" x2="79.2" y2="377.3" stroke="#fba919" stroke-width="1.1" />
<line x1="76.7" y1="375.3" x2="81.7" y2="375.3" stroke="#fba919" stroke-width="1.1" />
<line x1="76.7" y1="377.3" x2="81.7" y2="377.3" stroke="#fba919" stroke-width="1.1" />
<polygon points="79.2,374.28 77.28,377.77 81.12,377.77" fill="#fba919"/>
<line x1="101.5" y1="383.5" x2="101.5" y2="385.9" stroke="#fba919" stroke-width="1.1" />
<line x1="99" y1="383.5" x2="104" y2="383.5" stroke="#fba919" stroke-width="1.1" />
<line x1="99" y1="385.9" x2="104" y2="385.9" stroke="#fba919" stroke-width="1.1" />
<polygon points="101.5,382.68 99.58,386.17 103.42,386.17" fill="#fba919"/>
<line x1="124.2" y1="392.8" x2="124.2" y2="394.4" stroke="#fba919" stroke-width="1.1" />
<line x1="121.7" y1="392.8" x2="126.7" y2="392.8" stroke="#fba919" stroke-width="1.1" />
<line x1="121.7" y1="394.4" x2="126.7" y2="394.4" stroke="#fba919" stroke-width="1.1" />
<polygon points="124.2,391.58 122.28,395.07 126.12,395.07" fill="#fba919"/>
<line x1="174.1" y1="401.2" x2="174.1" y2="403.6" stroke="#fba919" stroke-width="1.1" />
<line x1="171.6" y1="401.2" x2="176.6" y2="401.2" stroke="#fba919" stroke-width="1.1" />
<line x1="171.6" y1="403.6" x2="176.6" y2="403.6" stroke="#fba919" stroke-width="1.1" />
<polygon points="174.1,400.38 172.18,403.87 176.02,403.87" fill="#fba919"/>
<line x1="241.4" y1="405.6" x2="241.4" y2="412.2" stroke="#fba919" stroke-width="1.1" />
<line x1="238.9" y1="405.6" x2="243.9" y2="405.6" stroke="#fba919" stroke-width="1.1" />
<line x1="238.9" y1="412.2" x2="243.9" y2="412.2" stroke="#fba919" stroke-width="1.1" />
<polygon points="241.4,406.88 239.48,410.37 243.32,410.37" fill="#fba919"/>
<line x1="325.3" y1="413.5" x2="325.3" y2="417.5" stroke="#fba919" stroke-width="1.1" />
<line x1="322.8" y1="413.5" x2="327.8" y2="413.5" stroke="#fba919" stroke-width="1.1" />
<line x1="322.8" y1="417.5" x2="327.8" y2="417.5" stroke="#fba919" stroke-width="1.1" />
<polygon points="325.3,413.48 323.38,416.97 327.22,416.97" fill="#fba919"/>
<circle cx="34.6" cy="368.6" r="1.68" fill="#3a7bbf"/>
<line x1="79.2" y1="372.9" x2="79.2" y2="374.9" stroke="#3a7bbf" stroke-width="1.1" />
<line x1="76.7" y1="372.9" x2="81.7" y2="372.9" stroke="#3a7bbf" stroke-width="1.1" />
<line x1="76.7" y1="374.9" x2="81.7" y2="374.9" stroke="#3a7bbf" stroke-width="1.1" />
<circle cx="79.2" cy="373.9" r="1.68" fill="#3a7bbf"/>
<line x1="101.5" y1="380.8" x2="101.5" y2="382.8" stroke="#3a7bbf" stroke-width="1.1" />
<line x1="99" y1="380.8" x2="104" y2="380.8" stroke="#3a7bbf" stroke-width="1.1" />
<line x1="99" y1="382.8" x2="104" y2="382.8" stroke="#3a7bbf" stroke-width="1.1" />
<circle cx="101.5" cy="381.8" r="1.68" fill="#3a7bbf"/>
<line x1="124.2" y1="390.7" x2="124.2" y2="392.3" stroke="#3a7bbf" stroke-width="1.1" />
<line x1="121.7" y1="390.7" x2="126.7" y2="390.7" stroke="#3a7bbf" stroke-width="1.1" />
<line x1="121.7" y1="392.3" x2="126.7" y2="392.3" stroke="#3a7bbf" stroke-width="1.1" />
<circle cx="124.2" cy="391.5" r="1.68" fill="#3a7bbf"/>
<line x1="174.1" y1="396.5" x2="174.1" y2="398.1" stroke="#3a7bbf" stroke-width="1.1" />
<line x1="171.6" y1="396.5" x2="176.6" y2="396.5" stroke="#3a7bbf" stroke-width="1.1" />
<line x1="171.6" y1="398.1" x2="176.6" y2="398.1" stroke="#3a7bbf" stroke-width="1.1" />
<circle cx="174.1" cy="397.3" r="1.68" fill="#3a7bbf"/>
<line x1="241.4" y1="398.5" x2="241.4" y2="402.9" stroke="#3a7bbf" stroke-width="1.1" />
<line x1="238.9" y1="398.5" x2="243.9" y2="398.5" stroke="#3a7bbf" stroke-width="1.1" />
<line x1="238.9" y1="402.9" x2="243.9" y2="402.9" stroke="#3a7bbf" stroke-width="1.1" />
<circle cx="241.4" cy="400.7" r="1.68" fill="#3a7bbf"/>
<line x1="325.3" y1="402.7" x2="325.3" y2="415.1" stroke="#3a7bbf" stroke-width="1.1" />
<line x1="322.8" y1="402.7" x2="327.8" y2="402.7" stroke="#3a7bbf" stroke-width="1.1" />
<line x1="322.8" y1="415.1" x2="327.8" y2="415.1" stroke="#3a7bbf" stroke-width="1.1" />
<circle cx="325.3" cy="408.9" r="1.68" fill="#3a7bbf"/>
<polygon points="34.6,373.42 32.68,369.93 36.52,369.93" fill="#c8304f"/>
<line x1="79.2" y1="377.2" x2="79.2" y2="379.2" stroke="#c8304f" stroke-width="1.1" />
<line x1="76.7" y1="377.2" x2="81.7" y2="377.2" stroke="#c8304f" stroke-width="1.1" />
<line x1="76.7" y1="379.2" x2="81.7" y2="379.2" stroke="#c8304f" stroke-width="1.1" />
<polygon points="79.2,380.22 77.28,376.73 81.12,376.73" fill="#c8304f"/>
<line x1="101.5" y1="386.5" x2="101.5" y2="388.5" stroke="#c8304f" stroke-width="1.1" />
<line x1="99" y1="386.5" x2="104" y2="386.5" stroke="#c8304f" stroke-width="1.1" />
<line x1="99" y1="388.5" x2="104" y2="388.5" stroke="#c8304f" stroke-width="1.1" />
<polygon points="101.5,389.52 99.58,386.03 103.42,386.03" fill="#c8304f"/>
<line x1="124.2" y1="395.5" x2="124.2" y2="397.1" stroke="#c8304f" stroke-width="1.1" />
<line x1="121.7" y1="395.5" x2="126.7" y2="395.5" stroke="#c8304f" stroke-width="1.1" />
<line x1="121.7" y1="397.1" x2="126.7" y2="397.1" stroke="#c8304f" stroke-width="1.1" />
<polygon points="124.2,398.32 122.28,394.83 126.12,394.83" fill="#c8304f"/>
<line x1="174.1" y1="406" x2="174.1" y2="408" stroke="#c8304f" stroke-width="1.1" />
<line x1="171.6" y1="406" x2="176.6" y2="406" stroke="#c8304f" stroke-width="1.1" />
<line x1="171.6" y1="408" x2="176.6" y2="408" stroke="#c8304f" stroke-width="1.1" />
<polygon points="174.1,409.02 172.18,405.53 176.02,405.53" fill="#c8304f"/>
<line x1="241.4" y1="415.4" x2="241.4" y2="418" stroke="#c8304f" stroke-width="1.1" />
<line x1="238.9" y1="415.4" x2="243.9" y2="415.4" stroke="#c8304f" stroke-width="1.1" />
<line x1="238.9" y1="418" x2="243.9" y2="418" stroke="#c8304f" stroke-width="1.1" />
<polygon points="241.4,418.72 239.48,415.23 243.32,415.23" fill="#c8304f"/>
<line x1="325.3" y1="418.2" x2="325.3" y2="421.2" stroke="#c8304f" stroke-width="1.1" />
<line x1="322.8" y1="418.2" x2="327.8" y2="418.2" stroke="#c8304f" stroke-width="1.1" />
<line x1="322.8" y1="421.2" x2="327.8" y2="421.2" stroke="#c8304f" stroke-width="1.1" />
<polygon points="325.3,421.72 323.38,418.23 327.22,418.23" fill="#c8304f"/>
<text x="37.9" y="462.3" font-size="8.35" text-anchor="start" fill="#000" >Continuous thermal aging at 85 &#176;C&#160; in nitrogen condition</text>
<line x1="279" y1="452.7" x2="296.8" y2="452.7" stroke="#404040" stroke-width="1.6" />
<rect x="286.2" y="451" width="3.4" height="3.4" fill="#404040"/>
<text x="299" y="455.4" font-size="7.5" text-anchor="start" fill="#000" >Control</text>
<line x1="279" y1="462.1" x2="296.8" y2="462.1" stroke="#fba919" stroke-width="1.6" />
<polygon points="287.9,459.95 285.86,463.66 289.94,463.66" fill="#fba919"/>
<text x="299" y="464.8" font-size="7.5" text-anchor="start" fill="#000" >5NT4D</text>
<line x1="279" y1="471.5" x2="296.8" y2="471.5" stroke="#3a7bbf" stroke-width="1.6" />
<circle cx="287.9" cy="471.5" r="1.78" fill="#3a7bbf"/>
<text x="299" y="474.2" font-size="7.5" text-anchor="start" fill="#000" >2NTD</text>
<line x1="279" y1="481" x2="296.8" y2="481" stroke="#c8304f" stroke-width="1.6" />
<polygon points="287.9,483.15 285.86,479.44 289.94,479.44" fill="#c8304f"/>
<text x="299" y="483.7" font-size="7.5" text-anchor="start" fill="#000" >5NT3D</text>
<text x="3.4" y="361.3" font-size="12.5" text-anchor="start" fill="#000" >g</text>
<line x1="373.2" y1="502.2" x2="377.8" y2="502.2" stroke="#000" stroke-width="1.25" />
<line x1="373.2" y1="474.28" x2="377.8" y2="474.28" stroke="#000" stroke-width="1.25" />
<line x1="373.2" y1="446.36" x2="377.8" y2="446.36" stroke="#000" stroke-width="1.25" />
<line x1="373.2" y1="418.44" x2="377.8" y2="418.44" stroke="#000" stroke-width="1.25" />
<line x1="373.2" y1="390.52" x2="377.8" y2="390.52" stroke="#000" stroke-width="1.25" />
<line x1="373.2" y1="362.6" x2="377.8" y2="362.6" stroke="#000" stroke-width="1.25" />
<line x1="375.1" y1="488.24" x2="377.8" y2="488.24" stroke="#000" stroke-width="1.25" />
<line x1="375.1" y1="460.32" x2="377.8" y2="460.32" stroke="#000" stroke-width="1.25" />
<line x1="375.1" y1="432.4" x2="377.8" y2="432.4" stroke="#000" stroke-width="1.25" />
<line x1="375.1" y1="404.48" x2="377.8" y2="404.48" stroke="#000" stroke-width="1.25" />
<line x1="375.1" y1="376.56" x2="377.8" y2="376.56" stroke="#000" stroke-width="1.25" />
<text x="369" y="504.4" font-size="8.3" text-anchor="end" fill="#000" >0.0</text>
<text x="369" y="476.48" font-size="8.3" text-anchor="end" fill="#000" >0.2</text>
<text x="369" y="448.56" font-size="8.3" text-anchor="end" fill="#000" >0.4</text>
<text x="369" y="420.64" font-size="8.3" text-anchor="end" fill="#000" >0.6</text>
<text x="369" y="392.72" font-size="8.3" text-anchor="end" fill="#000" >0.8</text>
<text x="369" y="364.8" font-size="8.3" text-anchor="end" fill="#000" >1.0</text>
<line x1="377.9" y1="502.3" x2="377.9" y2="506.9" stroke="#000" stroke-width="1.25" />
<line x1="432.8" y1="502.3" x2="432.8" y2="506.9" stroke="#000" stroke-width="1.25" />
<line x1="487.7" y1="502.3" x2="487.7" y2="506.9" stroke="#000" stroke-width="1.25" />
<line x1="542.6" y1="502.3" x2="542.6" y2="506.9" stroke="#000" stroke-width="1.25" />
<line x1="597.5" y1="502.3" x2="597.5" y2="506.9" stroke="#000" stroke-width="1.25" />
<line x1="652.4" y1="502.3" x2="652.4" y2="506.9" stroke="#000" stroke-width="1.25" />
<line x1="405.35" y1="502.3" x2="405.35" y2="505" stroke="#000" stroke-width="1.25" />
<line x1="460.25" y1="502.3" x2="460.25" y2="505" stroke="#000" stroke-width="1.25" />
<line x1="515.15" y1="502.3" x2="515.15" y2="505" stroke="#000" stroke-width="1.25" />
<line x1="570.05" y1="502.3" x2="570.05" y2="505" stroke="#000" stroke-width="1.25" />
<line x1="624.95" y1="502.3" x2="624.95" y2="505" stroke="#000" stroke-width="1.25" />
<line x1="679.85" y1="502.3" x2="679.85" y2="505" stroke="#000" stroke-width="1.25" />
<text x="377.9" y="517.1" font-size="8.2" text-anchor="middle" fill="#000" >0</text>
<text x="432.8" y="517.1" font-size="8.2" text-anchor="middle" fill="#000" >200</text>
<text x="487.7" y="517.1" font-size="8.2" text-anchor="middle" fill="#000" >400</text>
<text x="542.6" y="517.1" font-size="8.2" text-anchor="middle" fill="#000" >600</text>
<text x="597.5" y="517.1" font-size="8.2" text-anchor="middle" fill="#000" >800</text>
<text x="652.4" y="517.1" font-size="8.2" text-anchor="middle" fill="#000" >1000</text>
<text x="531.5" y="526.6" font-size="9.8" text-anchor="middle" fill="#000" >Time (h)</text>
<text transform="translate(352.3,430.6) rotate(-90)" font-size="9.6" text-anchor="middle" fill="#000">Normalized PCE</text>
<polyline points="378.4,371.63 378.6,375.56 380.3,377.67 382,380.35 383.57,381.34 385.13,381.53 386.7,382.42 388.15,384.3 389.6,384.21 391.05,384.9 392.5,386.69 393.98,386.48 395.45,387.52 396.92,387.54 398.4,388.29 399.93,388.01 401.47,389.09 403,389.82 405.1,388.63 406,382.34 407.45,383.39 408.9,383.69 410.65,384.06 412.4,383.23 414.7,391.62 416.5,400.14 418.2,400.91 419.4,389.46 421.7,388.11 423.18,388.18 424.65,387.8 426.12,387.94 427.6,387.05 429.05,387.47 430.5,386.82 431.95,387.36 433.4,387.13 434.85,386.19 436.3,386.39 437.75,386.65 439.2,387.85 440.4,390.01 441.6,393.18 443.35,395.07 445.1,397.71 446.85,398.44 448.6,399.29 450,394.82 451.2,395.42 452.4,396.47 453.6,396.75 454.8,397.7 456.13,398.4 457.47,399.39 458.8,399.74 460.4,397.03 462,396 463.33,395.62 464.67,395 466,394 467.23,393.4 468.45,391.9 469.67,391.96 470.9,390.8 472.1,390.2 473.3,389.69 474.5,390.6 475.7,390.59 476.9,389.72 478.1,391.12 479.3,390.97 480.5,391.01 481.7,391.81 482.9,393.08 484.1,393.82 485.3,393.26 486.63,393.79 487.97,392.73 489.3,393.41 491.4,387.26 492.6,388.57 493.8,389.24 495,389.11 496.6,391.4 498.2,392.03 499.53,391.71 500.87,392.44 502.2,391.64 503.53,391.88 504.87,392.17 506.2,392.45 507.53,391.69 508.87,391.39 510.2,392.41 511.53,391.51 512.87,392.28 514.2,392.06 515.44,391.27 516.68,391.32 517.92,391.34 519.15,391.46 520.39,391.33 521.63,391.21 522.87,391.24 524.11,391.62 525.35,390.96 526.58,390.79 527.82,391.13 529.06,390.39 530.3,390.42 531.54,391.43 532.78,390.85 534.02,390.95 535.25,390.26 536.49,390.89 537.73,391.18 538.97,390.46 540.21,391.35 541.45,391.44 542.68,390.7 543.92,391.56 545.16,391.39 546.4,391.75 547.68,391.61 548.96,392.43 550.24,392.79 551.52,392.11 552.8,392.48 554,394.35 555.2,395.75 556.4,395.75 557.6,397.04 560,395.63 561.28,395.41 562.56,395.63 563.84,395.72 565.12,395.96 566.4,396.43 567.67,395.95 568.93,395.99 570.2,396.48 571.47,395.37 572.73,396.06 574,396.23 575.27,395.57 576.53,395.38 577.8,396.13 579.16,395.78 580.51,396.15 581.87,396.94 583.23,397.75 584.59,397.36 585.94,398.11 587.3,398.57 588.72,398.89 590.15,397.96 591.58,398.17 593,396.84 594.2,397.1 595.4,397.56 596.6,397.92 597.8,397.34 599,397.05 600.2,396.93 601.4,397.53 602.6,397.09 603.8,397.97 605,398.05 606.2,397.16 607.65,399.04 609.1,401.53 610,408.9 611.45,410.98 612.9,412.18 614.3,414.28 615.7,416.91 616.7,421.9" fill="none" stroke="#3c3c3c" stroke-width="3.4" stroke-linejoin="round" stroke-linecap="round" />
<polyline points="378.4,372.23 378.6,375.54 380.3,378.3 382,380.32 384.35,381.64 386.7,383.56 388.63,385.25 390.57,386.05 392.5,386.97 394.47,386.91 396.43,388.05 398.4,388.39 400.7,388.84 403,389.35 405.1,388.8 406,383.2 408.9,385.36 410.65,384.73 412.4,384.12 414.7,392.07 416.5,401.13 418.2,401.18 419.4,390.42 421.7,388.9 423.67,388.73 425.63,387.42 427.6,387.95 429.53,387.84 431.47,387.41 433.4,386.75 435.33,387.36 437.27,387.03 439.2,388.41 441.6,394.11 443.35,396.02 445.1,398.02 446.85,399.77 448.6,400.2 450,395.84 451.6,396.59 453.2,396.91 454.8,397.58 456.8,399.04 458.8,400 462,395.63 464,395.03 466,394.94 467.63,392.79 469.27,391.73 470.9,391.48 472.5,390.73 474.1,390.82 475.7,390.46 477.3,390.81 478.9,392.26 480.5,391.67 482.1,392.78 483.7,393.28 485.3,394.69 487.3,393.79 489.3,393.5 491.4,388.45 493.2,388.65 495,389.78 498.2,393.47 499.8,392.34 501.4,392.29 503,392.52 504.6,393.27 506.2,393.06 507.8,392.37 509.4,392.34 511,391.97 512.6,392.2 514.2,391.46 515.81,392.3 517.42,392.49 519.03,392.5 520.64,392.11 522.25,392.34 523.86,390.95 525.47,391.24 527.08,392.11 528.69,391.77 530.3,391.17 531.91,392 533.52,391.63 535.13,391.99 536.74,391.33 538.35,391.27 539.96,391.7 541.57,391.35 543.18,391.77 544.79,392.67 546.4,391.86 548.53,391.95 550.67,392.53 552.8,393.24 554.4,395.43 556,396.17 557.6,397.41 560,395.54 562.13,397.04 564.27,396.53 566.4,396.49 568.03,396.2 569.66,396.11 571.29,396.18 572.91,396.8 574.54,395.98 576.17,395.74 577.8,396.29 579.7,396.57 581.6,398.24 583.5,397.63 585.4,398.82 587.3,399.78 589.2,398.77 591.1,399.08 593,397.87 594.65,397.58 596.3,397.85 597.95,397.36 599.6,397.94 601.25,397.74 602.9,398.67 604.55,398.63 606.2,398.2 609.1,401.04 610,408.96 612.9,412.64 615.7,417.39 616.7,422.5" fill="none" stroke="#3c3c3c" stroke-width="3.0" stroke-linejoin="round" stroke-linecap="round" />
<polyline points="378.6,364.6 380.3,368.89 381.75,370.42 383.2,372.11 384.65,371.18 386.1,370.88 387.55,370.65 389,372.54 390.75,373.91 392.5,374.04 394.25,375.59 396,375.48 397.75,376.9 399.5,377.39 401.25,378.17 403,378.52 404.6,375.62 405.4,370.95 407.7,369.85 410,372.67 412.4,370.13 414.7,376.76 416.3,382.48 417.5,379.82 419.4,375.09 421.7,373.2 423.45,372.4 425.2,373.19 426.95,371.54 428.7,370.94 430.27,371.97 431.83,371.6 433.4,370.46 434.97,371.94 436.53,371.66 438.1,372.28 439.85,372.43 441.6,374.51 443.35,375.56 445.1,377.45 446.63,377.96 448.17,377.64 449.7,378.38 451.13,378 452.57,377.9 454,377.7 455.33,378.62 456.67,379.63 458,379.21 459.2,379.78 460.4,378.74 461.6,378.2 462.8,378.51 464.4,376.77 466,375.31 467.33,374.77 468.67,374.33 470,372.49 471.5,374.16 472.5,376.44 474.1,378.6 475.7,379.75 476.98,378.45 478.26,379.7 479.54,379.05 480.82,379.41 482.1,378.51 483.31,378.56 484.53,378.76 485.74,379.99 486.95,378.76 488.16,379.65 489.38,379.91 490.59,379.92 491.8,378.95 493.08,378.59 494.36,378.48 495.64,378.5 496.92,377.05 498.2,377.7 499.43,377.78 500.66,377.88 501.89,376.56 503.12,378.01 504.35,376.65 505.58,377.05 506.82,377.48 508.05,377.97 509.28,377.04 510.51,377.98 511.74,377.37 512.97,377 514.2,377.01 515.44,376.81 516.68,376.67 517.92,376.81 519.15,377.69 520.39,378.21 521.63,376.9 522.87,376.74 524.11,378.26 525.35,377.56 526.58,377.38 527.82,377.13 529.06,377.73 530.3,378.12 531.54,377.53 532.78,377.47 534.02,376.89 535.25,378.27 536.49,376.85 537.73,377.59 538.97,378.14 540.21,377.01 541.45,377.97 542.68,378.32 543.92,377.81 545.16,378.06 546.4,376.97 547.68,377.38 548.96,376.8 550.24,377.79 551.52,376.79 552.8,376.93 554.03,378.13 555.27,378.23 556.5,378.76 557.8,374.33 559,378.18 560.75,378.67 562.5,378.37 563.5,382.57 564.5,378.45 565.79,378.02 567.08,378.37 568.38,379.33 569.67,379.27 570.96,378.72 572.25,378.5 573.54,378.22 574.83,377.81 576.12,378.09 577.42,378.88 578.71,379 580,378.18 581.21,378.86 582.41,378.84 583.62,378.71 584.82,378.66 586.03,378.82 587.24,378.18 588.44,378.73 589.65,378.05 590.85,378.38 592.06,378.83 593.26,378.71 594.47,378.07 595.68,379.11 596.88,378.64 598.09,378.53 599.29,377.62 600.5,378.48 601.5,385.3 602.5,378.87 603.73,378.54 604.96,379.11 606.19,378.84 607.42,379.08 608.65,378.36 609.88,378.83 611.12,378.98 612.35,379.13 613.58,378.36 614.81,379.15 616.04,379.19 617.27,378.9 618.5,379.36 619.2,390.13 620.5,388.93 621.2,378.85 622.85,377.87 624.5,378.54 625.2,376.9 626,378.16 627.27,378.54 628.54,378.63 629.81,378.68 631.08,377.83 632.35,378.84 633.62,378.56 634.88,378.73 636.15,378.38 637.42,378.74 638.69,379.02 639.96,378.84 641.23,379.01 642.5,377.94 643.3,384.66 644.3,378.81 645.64,379.19 646.97,378.55 648.31,379.35 649.65,379.31 650.99,378.42 652.33,379.15 653.66,378.81 655,378.59 656.26,378.89 657.52,379.37 658.78,379.33 660.04,379.53 661.3,379.46 662.53,379.88 663.77,379.48 665,379.4" fill="none" stroke="#3d7dc1" stroke-width="3.3" stroke-linejoin="round" stroke-linecap="round" />
<polyline points="378.6,366.17 380.3,370.32 383.2,372.68 386.1,371.12 389,373.1 390.75,374.76 392.5,375.05 394.25,376.67 396,377.2 397.75,378.68 399.5,378.74 401.25,379.88 403,380.07 404.6,377.56 405.4,372.76 407.7,371.79 410,372.81 412.4,371.09 414.7,379.09 416.3,382.92 417.5,382.19 419.4,376.5 421.7,375.65 423.45,374.24 425.2,373.25 426.95,373.78 428.7,373.19 430.27,372.41 431.83,371.65 433.4,371.62 434.97,372.72 436.53,372.57 438.1,374.02 439.85,374.34 441.6,374.62 443.35,376.8 445.1,377.78 446.63,379.33 448.17,379.92 449.7,379.92 451.85,380.03 454,380.02 456,380.99 458,382.06 459.6,379.88 461.2,379.74 462.8,379.46 464.4,377.79 466,377.04 468,375.04 470,375.11 471.5,374.74 472.5,377.89 474.1,379.76 475.7,380.2 477.3,380.04 478.9,380.52 480.5,380 482.1,380.14 483.72,381.17 485.33,380.88 486.95,379.77 488.57,380.98 490.18,379.74 491.8,380.23 493.4,380.67 495,379.74 496.6,378.76 498.2,378.4 499.8,378.42 501.4,378 503,379.4 504.6,377.89 506.2,378.48 507.8,378.99 509.4,378.44 511,379.37 512.6,378.19 514.2,379.37 515.81,379.26 517.42,378.93 519.03,379.31 520.64,378.64 522.25,379.28 523.86,379.25 525.47,378.84 527.08,378.79 528.69,379.2 530.3,378.75 531.91,378.24 533.52,379.29 535.13,378.53 536.74,378.88 538.35,379.35 539.96,378.38 541.57,378.13 543.18,378.3 544.79,379.04 546.4,378.68 548,378.36 549.6,378.52 551.2,379.13 552.8,377.91 554.65,378.66 556.5,379.91 557.8,375.88 559,379.13 560.75,379.56 562.5,379.67 563.5,383.63 564.5,379.7 566.05,379.57 567.6,380.35 569.15,379.56 570.7,380.07 572.25,380.55 573.8,380.46 575.35,379.56 576.9,379.9 578.45,379.43 580,379.54 581.58,379.68 583.15,380.17 584.73,380.4 586.31,379.37 587.88,378.91 589.46,379.62 591.04,378.99 592.62,378.95 594.19,380.14 595.77,379.08 597.35,380.05 598.92,379.48 600.5,380.4 601.5,387.57 602.5,379.2 604.1,379.41 605.7,380.62 607.3,380.08 608.9,379.78 610.5,380.35 612.1,380.4 613.7,379.89 615.3,379.85 616.9,379.26 618.5,379.68 619.2,390.13 620.5,390.4 621.2,380.27 622.85,379.13 624.5,379.5 625.2,376.86 626,378.87 627.5,379.78 629,379.53 630.5,380.28 632,379.89 633.5,380.05 635,379.18 636.5,380.35 638,379.2 639.5,380.1 641,380.61 642.5,380.65 643.3,387.13 644.3,380.12 645.83,380.57 647.36,380.78 648.89,379.79 650.41,381.14 651.94,381.14 653.47,380.45 655,381.05 656.58,380.74 658.15,380.69 659.72,381.61 661.3,380.8 663.15,381.58 665,380.7" fill="none" stroke="#3b7bc0" stroke-width="3.3" stroke-linejoin="round" stroke-linecap="round" />
<line x1="378.5" y1="380.2" x2="677" y2="380.2" stroke="#aab0e4" stroke-width="0.9" stroke-dasharray="3.2,2.6" opacity="0.8"/>
<text x="395.7" y="447.2" font-size="7.75" text-anchor="start" fill="#000" >MPP tracking, at room temperature</text>
<text x="395.7" y="462.6" font-size="7.75" text-anchor="start" fill="#000" >Under continuous white light LED illumination (1 sun)</text>
<text x="395.7" y="477.5" font-size="7.75" text-anchor="start" fill="#000" >Unencapsulated devices</text>
<rect x="625.7" y="468.2" width="2.6" height="2.6" fill="#3c3c3c"/>
<circle cx="627" cy="479.2" r="1.4" fill="#3d7dc1"/>
<text x="637" y="472.3" font-size="7.7" text-anchor="start" fill="#000" >Control</text>
<text x="637" y="482" font-size="7.7" text-anchor="start" fill="#000" >2NTD</text>
<rect x="377.8" y="355.9" width="302.7" height="146.4" fill="none" stroke="#000" stroke-width="1.5"/>
<text x="345" y="361.5" font-size="12.5" text-anchor="start" fill="#000" >h</text>
</svg>
</body></html>
